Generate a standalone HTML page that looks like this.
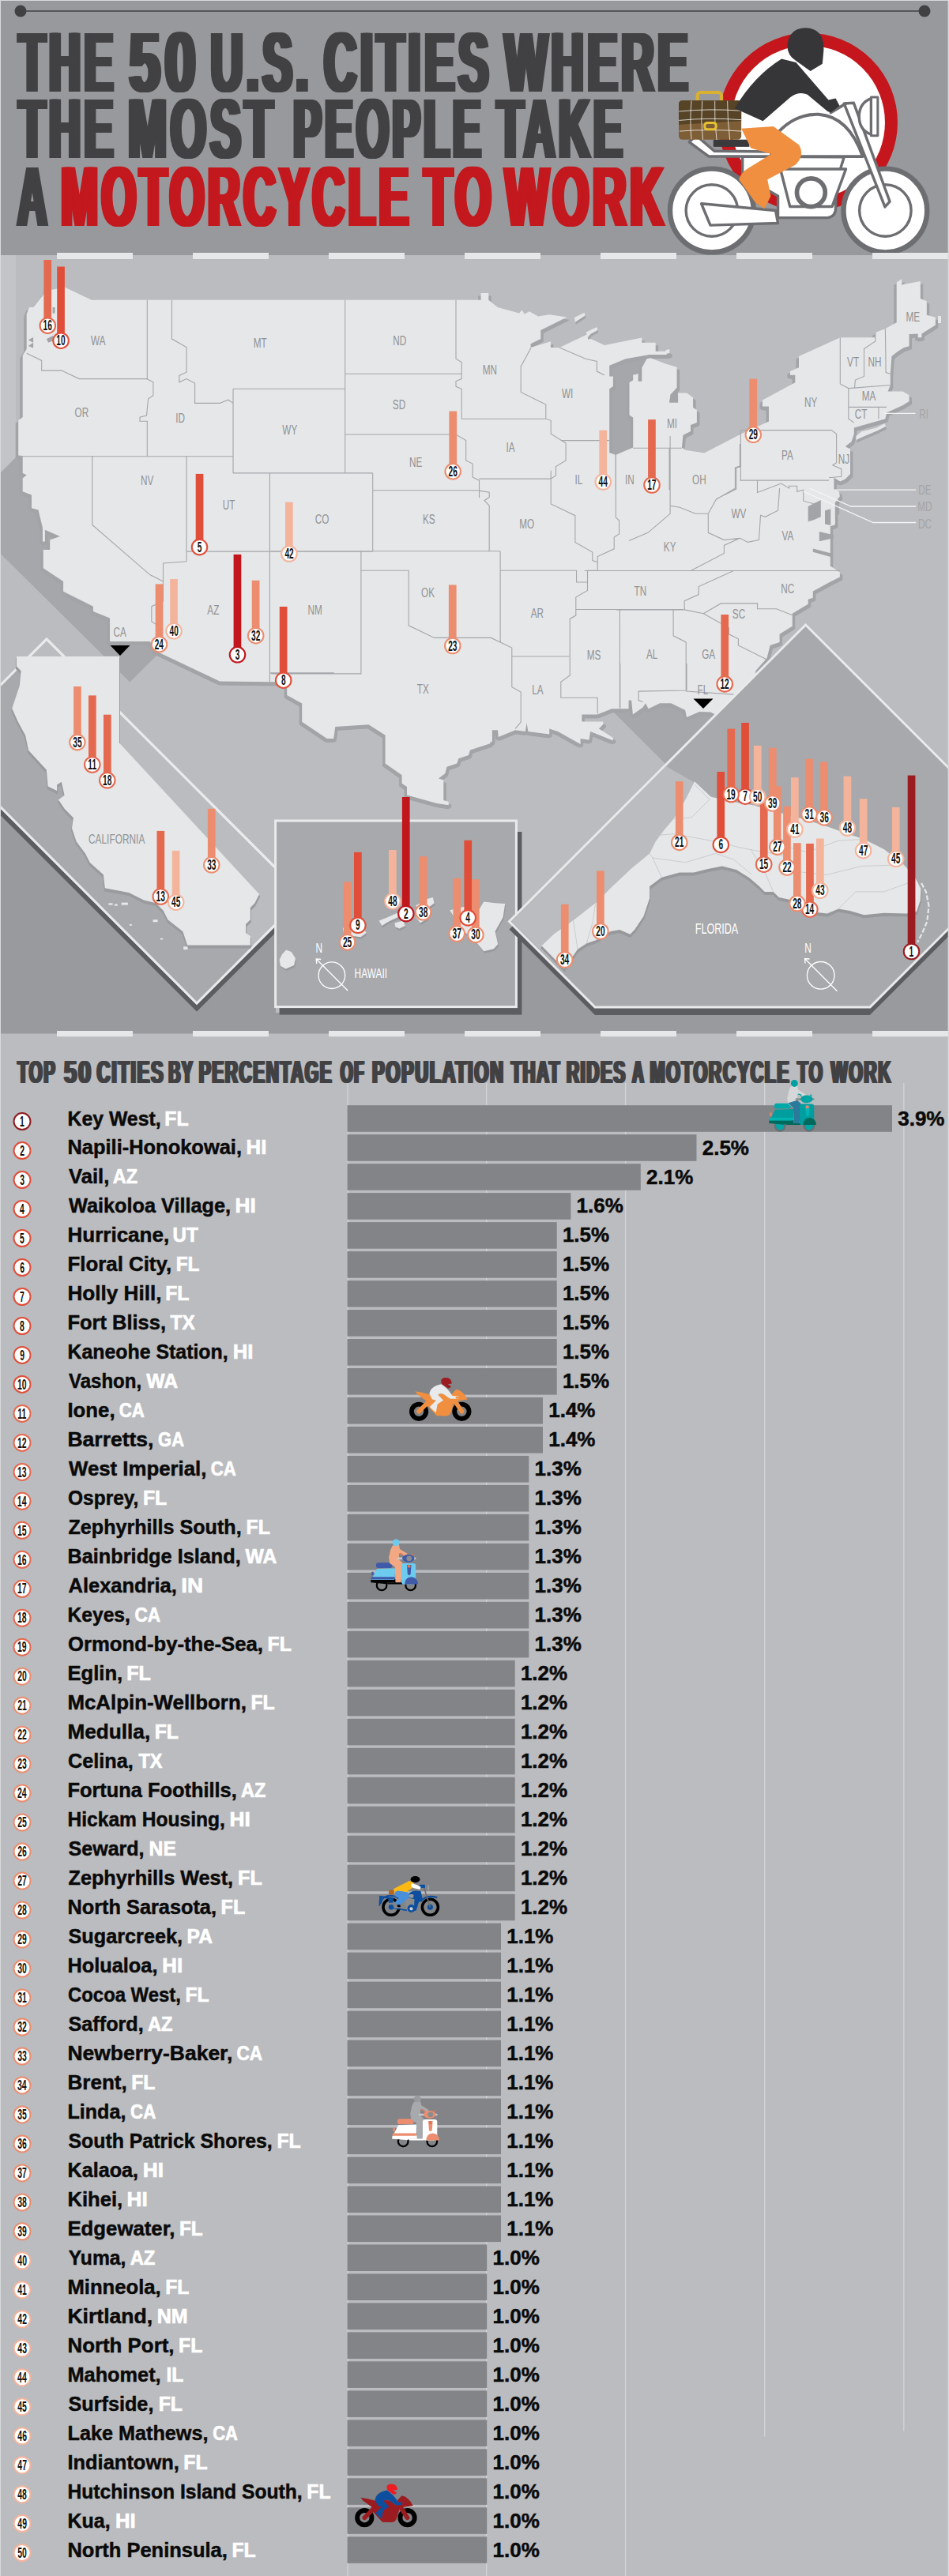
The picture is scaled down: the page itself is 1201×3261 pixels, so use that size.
<!DOCTYPE html><html><head><meta charset="utf-8"><title>Motorcycle</title><style>html,body{margin:0;padding:0;background:#bbbcbf;}svg{display:block}</style></head><body><svg width="1201" height="3261" viewBox="0 0 1201 3261" font-family="Liberation Sans, sans-serif">
<rect x="0" y="0" width="1201" height="3261" fill="#bbbcbf"/>
<rect x="0" y="323" width="20" height="300" fill="#c3c4c7"/>
<path d="M0.0 599.0 L22.0 577.0 L60.0 577.0 L210.0 790.0 L205.0 822.0 L200.0 828.0 L164.4 863.5 L150.7 850.0 L150.7 830.4 L131.5 830.4 L0.0 700.3 Z" fill="#a6a7aa"/>
<path d="M755.0 880.0 L842.0 967.0 L912.0 896.0 Z" fill="#a6a7aa"/>
<path d="M0.0 1024.0 L249.0 1272.0 L349.0 1172.0 L349.0 1282.0 L655.0 1282.0 L655.0 1180.0 L760.0 1285.0 L1101.0 1285.0 L1201.0 1185.0 L1201.0 1308.5 L0.0 1308.5 Z" fill="#999a9d"/>
<path d="M771.2 462.8 L791.8 454.3 L821.8 448.9 L818.6 454.3 L812.3 465.4 L812.3 482.8 L807.6 482.8 L807.6 473.3 L801.2 474.8 L801.2 481.2 L796.5 484.3 L796.5 525.4 L801.2 528.6 L801.2 566.5 L779.1 576.0 L771.2 572.9 L771.2 492.2 L755.4 492.2 L764.9 487.5 L764.9 479.6 L771.2 476.4 Z" fill="#a6a7aa"/>
<path d="M37.1 389.0 L42.1 389.0 L59.0 367.9 L82.2 363.7 L115.9 379.7 L608.6 379.7 L608.6 370.9 L618.3 370.9 L618.3 379.7 L629.7 389.0 L657.1 396.6 L660.6 392.6 L663.7 397.4 L670.0 394.2 L681.1 400.6 L695.3 398.3 L717.5 401.5 L684.3 417.9 L684.3 429.0 L671.6 435.3 L671.6 440.1 L696.9 432.2 L696.9 440.1 L708.0 440.1 L744.3 422.7 L744.3 427.4 L764.9 436.9 L812.3 427.4 L812.3 433.7 L829.7 433.7 L829.7 444.8 L847.1 444.8 L847.1 448.9 L821.8 448.9 L791.8 454.3 L771.2 462.8 L771.2 476.4 L775.9 476.4 L775.9 489.1 L771.2 492.2 L771.2 572.9 L779.1 576.0 L801.2 566.5 L801.2 528.6 L796.5 525.4 L796.5 484.3 L801.2 481.2 L801.2 474.8 L807.6 473.3 L807.6 482.8 L812.3 482.8 L812.3 465.4 L818.6 454.3 L823.4 453.3 L842.3 460.6 L856.6 464.7 L856.6 490.7 L848.7 499.5 L847.1 509.6 L858.1 509.6 L858.1 497.6 L869.2 497.6 L877.1 503.3 L877.1 515.9 L881.9 519.1 L881.9 534.9 L874.0 538.1 L874.0 546.0 L864.5 550.7 L862.9 566.5 L867.6 569.7 L891.3 573.5 L938.1 549.3 L973.0 533.5 L973.0 514.4 L965.0 514.4 L965.0 506.5 L1006.3 484.3 L1006.3 474.8 L999.9 474.8 L999.9 470.0 L1011.0 465.3 L1011.0 451.0 L1063.3 427.2 L1107.8 427.2 L1107.8 420.9 L1120.4 416.1 L1134.7 408.2 L1134.7 357.4 L1141.1 353.3 L1141.1 360.6 L1164.8 355.9 L1164.8 378.1 L1172.8 381.2 L1172.8 398.7 L1183.9 401.8 L1183.9 411.4 L1166.4 422.5 L1166.4 427.2 L1161.7 427.2 L1161.7 422.5 L1150.6 423.1 L1150.6 438.3 L1144.2 439.9 L1136.3 444.7 L1128.4 451.0 L1126.8 473.2 L1126.8 487.5 L1123.6 495.4 L1142.6 495.4 L1150.6 500.2 L1150.6 508.1 L1142.6 512.9 L1122.0 522.4 L1120.4 530.3 L1080.8 541.4 L1080.8 549.3 L1077.6 558.9 L1069.7 565.2 L1076.0 568.4 L1076.0 600.1 L1069.7 606.4 L1063.3 609.6 L1055.4 604.8 L1055.4 619.1 L1061.8 622.3 L1062.9 628.2 L1056.9 636.2 L1056.9 664.3 L1050.8 666.3 L1050.8 716.5 L1062.9 724.5 L1062.9 730.6 L1050.8 736.6 L1028.8 748.6 L1028.8 756.7 L1022.7 758.7 L1022.7 764.7 L1002.7 776.7 L1002.7 792.8 L986.6 802.8 L986.6 812.9 L974.6 816.9 L970.6 832.9 L956.5 849.0 L952.5 869.1 L940.4 897.2 L928.1 922.4 L904.8 904.5 L899.4 901.6 L885.1 900.9 L869.0 908.1 L867.2 899.1 L849.3 890.2 L835.0 890.2 L820.6 897.3 L817.0 890.2 L813.5 895.5 L800.9 904.5 L799.1 886.6 L795.6 886.6 L795.6 897.3 L774.1 897.3 L756.1 904.5 L736.4 904.5 L736.4 913.4 L763.3 913.4 L763.3 917.0 L757.9 922.4 L775.8 933.9 L775.8 937.4 L747.2 926.0 L745.4 936.7 L734.6 934.9 L734.6 942.1 L718.5 933.1 L706.0 926.0 L695.2 922.4 L695.2 929.6 L668.4 926.0 L666.6 915.2 L664.8 926.0 L652.2 924.2 L630.7 933.1 L630.0 924.2 L622.9 924.2 L622.9 938.5 L620.0 940.3 L620.3 941.2 L595.0 949.6 L592.9 956.0 L580.3 960.2 L578.2 966.5 L565.5 970.7 L563.4 979.1 L555.0 985.5 L561.3 987.6 L561.3 1012.9 L567.7 1015.0 L567.7 1019.2 L552.9 1017.1 L515.0 1006.5 L515.0 996.0 L508.6 991.8 L508.6 981.2 L487.6 966.5 L487.6 930.7 L466.5 917.2 L424.3 920.1 L422.2 934.9 L413.8 934.9 L382.2 913.8 L382.2 890.6 L363.2 880.1 L363.2 863.2 L300.0 863.2 L341.4 863.3 L278.2 862.5 L198.1 824.6 L189.7 811.9 L139.1 811.9 L139.1 782.4 L118.0 774.0 L118.0 767.7 L80.1 748.7 L80.1 736.0 L54.8 719.2 L54.8 696.0 L63.2 696.0 L63.2 683.4 L75.9 679.1 L56.9 670.7 L56.9 685.5 L54.0 685.5 L54.0 668.6 L48.5 645.4 L40.0 643.3 L40.0 626.4 L28.7 622.2 L28.7 605.4 L33.7 601.2 L28.7 599.1 L28.7 577.1 L23.2 576.6 L23.2 532.3 L28.7 528.1 L28.7 450.1 L33.7 441.7 L33.7 397.4 Z" transform="translate(-3.5,3.5)" fill="#a3a4a7"/>
<path d="M37.1 389.0 L42.1 389.0 L59.0 367.9 L82.2 363.7 L115.9 379.7 L608.6 379.7 L608.6 370.9 L618.3 370.9 L618.3 379.7 L629.7 389.0 L657.1 396.6 L660.6 392.6 L663.7 397.4 L670.0 394.2 L681.1 400.6 L695.3 398.3 L717.5 401.5 L684.3 417.9 L684.3 429.0 L671.6 435.3 L671.6 440.1 L696.9 432.2 L696.9 440.1 L708.0 440.1 L744.3 422.7 L744.3 427.4 L764.9 436.9 L812.3 427.4 L812.3 433.7 L829.7 433.7 L829.7 444.8 L847.1 444.8 L847.1 448.9 L821.8 448.9 L791.8 454.3 L771.2 462.8 L771.2 476.4 L775.9 476.4 L775.9 489.1 L771.2 492.2 L771.2 572.9 L779.1 576.0 L801.2 566.5 L801.2 528.6 L796.5 525.4 L796.5 484.3 L801.2 481.2 L801.2 474.8 L807.6 473.3 L807.6 482.8 L812.3 482.8 L812.3 465.4 L818.6 454.3 L823.4 453.3 L842.3 460.6 L856.6 464.7 L856.6 490.7 L848.7 499.5 L847.1 509.6 L858.1 509.6 L858.1 497.6 L869.2 497.6 L877.1 503.3 L877.1 515.9 L881.9 519.1 L881.9 534.9 L874.0 538.1 L874.0 546.0 L864.5 550.7 L862.9 566.5 L867.6 569.7 L891.3 573.5 L938.1 549.3 L973.0 533.5 L973.0 514.4 L965.0 514.4 L965.0 506.5 L1006.3 484.3 L1006.3 474.8 L999.9 474.8 L999.9 470.0 L1011.0 465.3 L1011.0 451.0 L1063.3 427.2 L1107.8 427.2 L1107.8 420.9 L1120.4 416.1 L1134.7 408.2 L1134.7 357.4 L1141.1 353.3 L1141.1 360.6 L1164.8 355.9 L1164.8 378.1 L1172.8 381.2 L1172.8 398.7 L1183.9 401.8 L1183.9 411.4 L1166.4 422.5 L1166.4 427.2 L1161.7 427.2 L1161.7 422.5 L1150.6 423.1 L1150.6 438.3 L1144.2 439.9 L1136.3 444.7 L1128.4 451.0 L1126.8 473.2 L1126.8 487.5 L1123.6 495.4 L1142.6 495.4 L1150.6 500.2 L1150.6 508.1 L1142.6 512.9 L1122.0 522.4 L1120.4 530.3 L1080.8 541.4 L1080.8 549.3 L1077.6 558.9 L1069.7 565.2 L1076.0 568.4 L1076.0 600.1 L1069.7 606.4 L1063.3 609.6 L1055.4 604.8 L1055.4 619.1 L1061.8 622.3 L1062.9 628.2 L1056.9 636.2 L1056.9 664.3 L1050.8 666.3 L1050.8 716.5 L1062.9 724.5 L1062.9 730.6 L1050.8 736.6 L1028.8 748.6 L1028.8 756.7 L1022.7 758.7 L1022.7 764.7 L1002.7 776.7 L1002.7 792.8 L986.6 802.8 L986.6 812.9 L974.6 816.9 L970.6 832.9 L956.5 849.0 L952.5 869.1 L940.4 897.2 L928.1 922.4 L904.8 904.5 L899.4 901.6 L885.1 900.9 L869.0 908.1 L867.2 899.1 L849.3 890.2 L835.0 890.2 L820.6 897.3 L817.0 890.2 L813.5 895.5 L800.9 904.5 L799.1 886.6 L795.6 886.6 L795.6 897.3 L774.1 897.3 L756.1 904.5 L736.4 904.5 L736.4 913.4 L763.3 913.4 L763.3 917.0 L757.9 922.4 L775.8 933.9 L775.8 937.4 L747.2 926.0 L745.4 936.7 L734.6 934.9 L734.6 942.1 L718.5 933.1 L706.0 926.0 L695.2 922.4 L695.2 929.6 L668.4 926.0 L666.6 915.2 L664.8 926.0 L652.2 924.2 L630.7 933.1 L630.0 924.2 L622.9 924.2 L622.9 938.5 L620.0 940.3 L620.3 941.2 L595.0 949.6 L592.9 956.0 L580.3 960.2 L578.2 966.5 L565.5 970.7 L563.4 979.1 L555.0 985.5 L561.3 987.6 L561.3 1012.9 L567.7 1015.0 L567.7 1019.2 L552.9 1017.1 L515.0 1006.5 L515.0 996.0 L508.6 991.8 L508.6 981.2 L487.6 966.5 L487.6 930.7 L466.5 917.2 L424.3 920.1 L422.2 934.9 L413.8 934.9 L382.2 913.8 L382.2 890.6 L363.2 880.1 L363.2 863.2 L300.0 863.2 L341.4 863.3 L278.2 862.5 L198.1 824.6 L189.7 811.9 L139.1 811.9 L139.1 782.4 L118.0 774.0 L118.0 767.7 L80.1 748.7 L80.1 736.0 L54.8 719.2 L54.8 696.0 L63.2 696.0 L63.2 683.4 L75.9 679.1 L56.9 670.7 L56.9 685.5 L54.0 685.5 L54.0 668.6 L48.5 645.4 L40.0 643.3 L40.0 626.4 L28.7 622.2 L28.7 605.4 L33.7 601.2 L28.7 599.1 L28.7 577.1 L23.2 576.6 L23.2 532.3 L28.7 528.1 L28.7 450.1 L33.7 441.7 L33.7 397.4 Z" transform="translate(0,5)" fill="#a3a4a7"/>
<path d="M37.1 389.0 L42.1 389.0 L59.0 367.9 L82.2 363.7 L115.9 379.7 L608.6 379.7 L608.6 370.9 L618.3 370.9 L618.3 379.7 L629.7 389.0 L657.1 396.6 L660.6 392.6 L663.7 397.4 L670.0 394.2 L681.1 400.6 L695.3 398.3 L717.5 401.5 L684.3 417.9 L684.3 429.0 L671.6 435.3 L671.6 440.1 L696.9 432.2 L696.9 440.1 L708.0 440.1 L744.3 422.7 L744.3 427.4 L764.9 436.9 L812.3 427.4 L812.3 433.7 L829.7 433.7 L829.7 444.8 L847.1 444.8 L847.1 448.9 L821.8 448.9 L791.8 454.3 L771.2 462.8 L771.2 476.4 L775.9 476.4 L775.9 489.1 L771.2 492.2 L771.2 572.9 L779.1 576.0 L801.2 566.5 L801.2 528.6 L796.5 525.4 L796.5 484.3 L801.2 481.2 L801.2 474.8 L807.6 473.3 L807.6 482.8 L812.3 482.8 L812.3 465.4 L818.6 454.3 L823.4 453.3 L842.3 460.6 L856.6 464.7 L856.6 490.7 L848.7 499.5 L847.1 509.6 L858.1 509.6 L858.1 497.6 L869.2 497.6 L877.1 503.3 L877.1 515.9 L881.9 519.1 L881.9 534.9 L874.0 538.1 L874.0 546.0 L864.5 550.7 L862.9 566.5 L867.6 569.7 L891.3 573.5 L938.1 549.3 L973.0 533.5 L973.0 514.4 L965.0 514.4 L965.0 506.5 L1006.3 484.3 L1006.3 474.8 L999.9 474.8 L999.9 470.0 L1011.0 465.3 L1011.0 451.0 L1063.3 427.2 L1107.8 427.2 L1107.8 420.9 L1120.4 416.1 L1134.7 408.2 L1134.7 357.4 L1141.1 353.3 L1141.1 360.6 L1164.8 355.9 L1164.8 378.1 L1172.8 381.2 L1172.8 398.7 L1183.9 401.8 L1183.9 411.4 L1166.4 422.5 L1166.4 427.2 L1161.7 427.2 L1161.7 422.5 L1150.6 423.1 L1150.6 438.3 L1144.2 439.9 L1136.3 444.7 L1128.4 451.0 L1126.8 473.2 L1126.8 487.5 L1123.6 495.4 L1142.6 495.4 L1150.6 500.2 L1150.6 508.1 L1142.6 512.9 L1122.0 522.4 L1120.4 530.3 L1080.8 541.4 L1080.8 549.3 L1077.6 558.9 L1069.7 565.2 L1076.0 568.4 L1076.0 600.1 L1069.7 606.4 L1063.3 609.6 L1055.4 604.8 L1055.4 619.1 L1061.8 622.3 L1062.9 628.2 L1056.9 636.2 L1056.9 664.3 L1050.8 666.3 L1050.8 716.5 L1062.9 724.5 L1062.9 730.6 L1050.8 736.6 L1028.8 748.6 L1028.8 756.7 L1022.7 758.7 L1022.7 764.7 L1002.7 776.7 L1002.7 792.8 L986.6 802.8 L986.6 812.9 L974.6 816.9 L970.6 832.9 L956.5 849.0 L952.5 869.1 L940.4 897.2 L928.1 922.4 L904.8 904.5 L899.4 901.6 L885.1 900.9 L869.0 908.1 L867.2 899.1 L849.3 890.2 L835.0 890.2 L820.6 897.3 L817.0 890.2 L813.5 895.5 L800.9 904.5 L799.1 886.6 L795.6 886.6 L795.6 897.3 L774.1 897.3 L756.1 904.5 L736.4 904.5 L736.4 913.4 L763.3 913.4 L763.3 917.0 L757.9 922.4 L775.8 933.9 L775.8 937.4 L747.2 926.0 L745.4 936.7 L734.6 934.9 L734.6 942.1 L718.5 933.1 L706.0 926.0 L695.2 922.4 L695.2 929.6 L668.4 926.0 L666.6 915.2 L664.8 926.0 L652.2 924.2 L630.7 933.1 L630.0 924.2 L622.9 924.2 L622.9 938.5 L620.0 940.3 L620.3 941.2 L595.0 949.6 L592.9 956.0 L580.3 960.2 L578.2 966.5 L565.5 970.7 L563.4 979.1 L555.0 985.5 L561.3 987.6 L561.3 1012.9 L567.7 1015.0 L567.7 1019.2 L552.9 1017.1 L515.0 1006.5 L515.0 996.0 L508.6 991.8 L508.6 981.2 L487.6 966.5 L487.6 930.7 L466.5 917.2 L424.3 920.1 L422.2 934.9 L413.8 934.9 L382.2 913.8 L382.2 890.6 L363.2 880.1 L363.2 863.2 L300.0 863.2 L341.4 863.3 L278.2 862.5 L198.1 824.6 L189.7 811.9 L139.1 811.9 L139.1 782.4 L118.0 774.0 L118.0 767.7 L80.1 748.7 L80.1 736.0 L54.8 719.2 L54.8 696.0 L63.2 696.0 L63.2 683.4 L75.9 679.1 L56.9 670.7 L56.9 685.5 L54.0 685.5 L54.0 668.6 L48.5 645.4 L40.0 643.3 L40.0 626.4 L28.7 622.2 L28.7 605.4 L33.7 601.2 L28.7 599.1 L28.7 577.1 L23.2 576.6 L23.2 532.3 L28.7 528.1 L28.7 450.1 L33.7 441.7 L33.7 397.4 Z" transform="translate(3.5,3.5)" fill="#a3a4a7"/>
<path d="M37.1 389.0 L42.1 389.0 L59.0 367.9 L82.2 363.7 L115.9 379.7 L608.6 379.7 L608.6 370.9 L618.3 370.9 L618.3 379.7 L629.7 389.0 L657.1 396.6 L660.6 392.6 L663.7 397.4 L670.0 394.2 L681.1 400.6 L695.3 398.3 L717.5 401.5 L684.3 417.9 L684.3 429.0 L671.6 435.3 L671.6 440.1 L696.9 432.2 L696.9 440.1 L708.0 440.1 L744.3 422.7 L744.3 427.4 L764.9 436.9 L812.3 427.4 L812.3 433.7 L829.7 433.7 L829.7 444.8 L847.1 444.8 L847.1 448.9 L821.8 448.9 L791.8 454.3 L771.2 462.8 L771.2 476.4 L775.9 476.4 L775.9 489.1 L771.2 492.2 L771.2 572.9 L779.1 576.0 L801.2 566.5 L801.2 528.6 L796.5 525.4 L796.5 484.3 L801.2 481.2 L801.2 474.8 L807.6 473.3 L807.6 482.8 L812.3 482.8 L812.3 465.4 L818.6 454.3 L823.4 453.3 L842.3 460.6 L856.6 464.7 L856.6 490.7 L848.7 499.5 L847.1 509.6 L858.1 509.6 L858.1 497.6 L869.2 497.6 L877.1 503.3 L877.1 515.9 L881.9 519.1 L881.9 534.9 L874.0 538.1 L874.0 546.0 L864.5 550.7 L862.9 566.5 L867.6 569.7 L891.3 573.5 L938.1 549.3 L973.0 533.5 L973.0 514.4 L965.0 514.4 L965.0 506.5 L1006.3 484.3 L1006.3 474.8 L999.9 474.8 L999.9 470.0 L1011.0 465.3 L1011.0 451.0 L1063.3 427.2 L1107.8 427.2 L1107.8 420.9 L1120.4 416.1 L1134.7 408.2 L1134.7 357.4 L1141.1 353.3 L1141.1 360.6 L1164.8 355.9 L1164.8 378.1 L1172.8 381.2 L1172.8 398.7 L1183.9 401.8 L1183.9 411.4 L1166.4 422.5 L1166.4 427.2 L1161.7 427.2 L1161.7 422.5 L1150.6 423.1 L1150.6 438.3 L1144.2 439.9 L1136.3 444.7 L1128.4 451.0 L1126.8 473.2 L1126.8 487.5 L1123.6 495.4 L1142.6 495.4 L1150.6 500.2 L1150.6 508.1 L1142.6 512.9 L1122.0 522.4 L1120.4 530.3 L1080.8 541.4 L1080.8 549.3 L1077.6 558.9 L1069.7 565.2 L1076.0 568.4 L1076.0 600.1 L1069.7 606.4 L1063.3 609.6 L1055.4 604.8 L1055.4 619.1 L1061.8 622.3 L1062.9 628.2 L1056.9 636.2 L1056.9 664.3 L1050.8 666.3 L1050.8 716.5 L1062.9 724.5 L1062.9 730.6 L1050.8 736.6 L1028.8 748.6 L1028.8 756.7 L1022.7 758.7 L1022.7 764.7 L1002.7 776.7 L1002.7 792.8 L986.6 802.8 L986.6 812.9 L974.6 816.9 L970.6 832.9 L956.5 849.0 L952.5 869.1 L940.4 897.2 L928.1 922.4 L904.8 904.5 L899.4 901.6 L885.1 900.9 L869.0 908.1 L867.2 899.1 L849.3 890.2 L835.0 890.2 L820.6 897.3 L817.0 890.2 L813.5 895.5 L800.9 904.5 L799.1 886.6 L795.6 886.6 L795.6 897.3 L774.1 897.3 L756.1 904.5 L736.4 904.5 L736.4 913.4 L763.3 913.4 L763.3 917.0 L757.9 922.4 L775.8 933.9 L775.8 937.4 L747.2 926.0 L745.4 936.7 L734.6 934.9 L734.6 942.1 L718.5 933.1 L706.0 926.0 L695.2 922.4 L695.2 929.6 L668.4 926.0 L666.6 915.2 L664.8 926.0 L652.2 924.2 L630.7 933.1 L630.0 924.2 L622.9 924.2 L622.9 938.5 L620.0 940.3 L620.3 941.2 L595.0 949.6 L592.9 956.0 L580.3 960.2 L578.2 966.5 L565.5 970.7 L563.4 979.1 L555.0 985.5 L561.3 987.6 L561.3 1012.9 L567.7 1015.0 L567.7 1019.2 L552.9 1017.1 L515.0 1006.5 L515.0 996.0 L508.6 991.8 L508.6 981.2 L487.6 966.5 L487.6 930.7 L466.5 917.2 L424.3 920.1 L422.2 934.9 L413.8 934.9 L382.2 913.8 L382.2 890.6 L363.2 880.1 L363.2 863.2 L300.0 863.2 L341.4 863.3 L278.2 862.5 L198.1 824.6 L189.7 811.9 L139.1 811.9 L139.1 782.4 L118.0 774.0 L118.0 767.7 L80.1 748.7 L80.1 736.0 L54.8 719.2 L54.8 696.0 L63.2 696.0 L63.2 683.4 L75.9 679.1 L56.9 670.7 L56.9 685.5 L54.0 685.5 L54.0 668.6 L48.5 645.4 L40.0 643.3 L40.0 626.4 L28.7 622.2 L28.7 605.4 L33.7 601.2 L28.7 599.1 L28.7 577.1 L23.2 576.6 L23.2 532.3 L28.7 528.1 L28.7 450.1 L33.7 441.7 L33.7 397.4 Z" transform="translate(-2,4.5)" fill="#a3a4a7"/>
<path d="M37.1 389.0 L42.1 389.0 L59.0 367.9 L82.2 363.7 L115.9 379.7 L608.6 379.7 L608.6 370.9 L618.3 370.9 L618.3 379.7 L629.7 389.0 L657.1 396.6 L660.6 392.6 L663.7 397.4 L670.0 394.2 L681.1 400.6 L695.3 398.3 L717.5 401.5 L684.3 417.9 L684.3 429.0 L671.6 435.3 L671.6 440.1 L696.9 432.2 L696.9 440.1 L708.0 440.1 L744.3 422.7 L744.3 427.4 L764.9 436.9 L812.3 427.4 L812.3 433.7 L829.7 433.7 L829.7 444.8 L847.1 444.8 L847.1 448.9 L821.8 448.9 L791.8 454.3 L771.2 462.8 L771.2 476.4 L775.9 476.4 L775.9 489.1 L771.2 492.2 L771.2 572.9 L779.1 576.0 L801.2 566.5 L801.2 528.6 L796.5 525.4 L796.5 484.3 L801.2 481.2 L801.2 474.8 L807.6 473.3 L807.6 482.8 L812.3 482.8 L812.3 465.4 L818.6 454.3 L823.4 453.3 L842.3 460.6 L856.6 464.7 L856.6 490.7 L848.7 499.5 L847.1 509.6 L858.1 509.6 L858.1 497.6 L869.2 497.6 L877.1 503.3 L877.1 515.9 L881.9 519.1 L881.9 534.9 L874.0 538.1 L874.0 546.0 L864.5 550.7 L862.9 566.5 L867.6 569.7 L891.3 573.5 L938.1 549.3 L973.0 533.5 L973.0 514.4 L965.0 514.4 L965.0 506.5 L1006.3 484.3 L1006.3 474.8 L999.9 474.8 L999.9 470.0 L1011.0 465.3 L1011.0 451.0 L1063.3 427.2 L1107.8 427.2 L1107.8 420.9 L1120.4 416.1 L1134.7 408.2 L1134.7 357.4 L1141.1 353.3 L1141.1 360.6 L1164.8 355.9 L1164.8 378.1 L1172.8 381.2 L1172.8 398.7 L1183.9 401.8 L1183.9 411.4 L1166.4 422.5 L1166.4 427.2 L1161.7 427.2 L1161.7 422.5 L1150.6 423.1 L1150.6 438.3 L1144.2 439.9 L1136.3 444.7 L1128.4 451.0 L1126.8 473.2 L1126.8 487.5 L1123.6 495.4 L1142.6 495.4 L1150.6 500.2 L1150.6 508.1 L1142.6 512.9 L1122.0 522.4 L1120.4 530.3 L1080.8 541.4 L1080.8 549.3 L1077.6 558.9 L1069.7 565.2 L1076.0 568.4 L1076.0 600.1 L1069.7 606.4 L1063.3 609.6 L1055.4 604.8 L1055.4 619.1 L1061.8 622.3 L1062.9 628.2 L1056.9 636.2 L1056.9 664.3 L1050.8 666.3 L1050.8 716.5 L1062.9 724.5 L1062.9 730.6 L1050.8 736.6 L1028.8 748.6 L1028.8 756.7 L1022.7 758.7 L1022.7 764.7 L1002.7 776.7 L1002.7 792.8 L986.6 802.8 L986.6 812.9 L974.6 816.9 L970.6 832.9 L956.5 849.0 L952.5 869.1 L940.4 897.2 L928.1 922.4 L904.8 904.5 L899.4 901.6 L885.1 900.9 L869.0 908.1 L867.2 899.1 L849.3 890.2 L835.0 890.2 L820.6 897.3 L817.0 890.2 L813.5 895.5 L800.9 904.5 L799.1 886.6 L795.6 886.6 L795.6 897.3 L774.1 897.3 L756.1 904.5 L736.4 904.5 L736.4 913.4 L763.3 913.4 L763.3 917.0 L757.9 922.4 L775.8 933.9 L775.8 937.4 L747.2 926.0 L745.4 936.7 L734.6 934.9 L734.6 942.1 L718.5 933.1 L706.0 926.0 L695.2 922.4 L695.2 929.6 L668.4 926.0 L666.6 915.2 L664.8 926.0 L652.2 924.2 L630.7 933.1 L630.0 924.2 L622.9 924.2 L622.9 938.5 L620.0 940.3 L620.3 941.2 L595.0 949.6 L592.9 956.0 L580.3 960.2 L578.2 966.5 L565.5 970.7 L563.4 979.1 L555.0 985.5 L561.3 987.6 L561.3 1012.9 L567.7 1015.0 L567.7 1019.2 L552.9 1017.1 L515.0 1006.5 L515.0 996.0 L508.6 991.8 L508.6 981.2 L487.6 966.5 L487.6 930.7 L466.5 917.2 L424.3 920.1 L422.2 934.9 L413.8 934.9 L382.2 913.8 L382.2 890.6 L363.2 880.1 L363.2 863.2 L300.0 863.2 L341.4 863.3 L278.2 862.5 L198.1 824.6 L189.7 811.9 L139.1 811.9 L139.1 782.4 L118.0 774.0 L118.0 767.7 L80.1 748.7 L80.1 736.0 L54.8 719.2 L54.8 696.0 L63.2 696.0 L63.2 683.4 L75.9 679.1 L56.9 670.7 L56.9 685.5 L54.0 685.5 L54.0 668.6 L48.5 645.4 L40.0 643.3 L40.0 626.4 L28.7 622.2 L28.7 605.4 L33.7 601.2 L28.7 599.1 L28.7 577.1 L23.2 576.6 L23.2 532.3 L28.7 528.1 L28.7 450.1 L33.7 441.7 L33.7 397.4 Z" transform="translate(2,4.5)" fill="#a3a4a7"/>
<path d="M37.1 389.0 L42.1 389.0 L59.0 367.9 L82.2 363.7 L115.9 379.7 L608.6 379.7 L608.6 370.9 L618.3 370.9 L618.3 379.7 L629.7 389.0 L657.1 396.6 L660.6 392.6 L663.7 397.4 L670.0 394.2 L681.1 400.6 L695.3 398.3 L717.5 401.5 L684.3 417.9 L684.3 429.0 L671.6 435.3 L671.6 440.1 L696.9 432.2 L696.9 440.1 L708.0 440.1 L744.3 422.7 L744.3 427.4 L764.9 436.9 L812.3 427.4 L812.3 433.7 L829.7 433.7 L829.7 444.8 L847.1 444.8 L847.1 448.9 L821.8 448.9 L791.8 454.3 L771.2 462.8 L771.2 476.4 L775.9 476.4 L775.9 489.1 L771.2 492.2 L771.2 572.9 L779.1 576.0 L801.2 566.5 L801.2 528.6 L796.5 525.4 L796.5 484.3 L801.2 481.2 L801.2 474.8 L807.6 473.3 L807.6 482.8 L812.3 482.8 L812.3 465.4 L818.6 454.3 L823.4 453.3 L842.3 460.6 L856.6 464.7 L856.6 490.7 L848.7 499.5 L847.1 509.6 L858.1 509.6 L858.1 497.6 L869.2 497.6 L877.1 503.3 L877.1 515.9 L881.9 519.1 L881.9 534.9 L874.0 538.1 L874.0 546.0 L864.5 550.7 L862.9 566.5 L867.6 569.7 L891.3 573.5 L938.1 549.3 L973.0 533.5 L973.0 514.4 L965.0 514.4 L965.0 506.5 L1006.3 484.3 L1006.3 474.8 L999.9 474.8 L999.9 470.0 L1011.0 465.3 L1011.0 451.0 L1063.3 427.2 L1107.8 427.2 L1107.8 420.9 L1120.4 416.1 L1134.7 408.2 L1134.7 357.4 L1141.1 353.3 L1141.1 360.6 L1164.8 355.9 L1164.8 378.1 L1172.8 381.2 L1172.8 398.7 L1183.9 401.8 L1183.9 411.4 L1166.4 422.5 L1166.4 427.2 L1161.7 427.2 L1161.7 422.5 L1150.6 423.1 L1150.6 438.3 L1144.2 439.9 L1136.3 444.7 L1128.4 451.0 L1126.8 473.2 L1126.8 487.5 L1123.6 495.4 L1142.6 495.4 L1150.6 500.2 L1150.6 508.1 L1142.6 512.9 L1122.0 522.4 L1120.4 530.3 L1080.8 541.4 L1080.8 549.3 L1077.6 558.9 L1069.7 565.2 L1076.0 568.4 L1076.0 600.1 L1069.7 606.4 L1063.3 609.6 L1055.4 604.8 L1055.4 619.1 L1061.8 622.3 L1062.9 628.2 L1056.9 636.2 L1056.9 664.3 L1050.8 666.3 L1050.8 716.5 L1062.9 724.5 L1062.9 730.6 L1050.8 736.6 L1028.8 748.6 L1028.8 756.7 L1022.7 758.7 L1022.7 764.7 L1002.7 776.7 L1002.7 792.8 L986.6 802.8 L986.6 812.9 L974.6 816.9 L970.6 832.9 L956.5 849.0 L952.5 869.1 L940.4 897.2 L928.1 922.4 L904.8 904.5 L899.4 901.6 L885.1 900.9 L869.0 908.1 L867.2 899.1 L849.3 890.2 L835.0 890.2 L820.6 897.3 L817.0 890.2 L813.5 895.5 L800.9 904.5 L799.1 886.6 L795.6 886.6 L795.6 897.3 L774.1 897.3 L756.1 904.5 L736.4 904.5 L736.4 913.4 L763.3 913.4 L763.3 917.0 L757.9 922.4 L775.8 933.9 L775.8 937.4 L747.2 926.0 L745.4 936.7 L734.6 934.9 L734.6 942.1 L718.5 933.1 L706.0 926.0 L695.2 922.4 L695.2 929.6 L668.4 926.0 L666.6 915.2 L664.8 926.0 L652.2 924.2 L630.7 933.1 L630.0 924.2 L622.9 924.2 L622.9 938.5 L620.0 940.3 L620.3 941.2 L595.0 949.6 L592.9 956.0 L580.3 960.2 L578.2 966.5 L565.5 970.7 L563.4 979.1 L555.0 985.5 L561.3 987.6 L561.3 1012.9 L567.7 1015.0 L567.7 1019.2 L552.9 1017.1 L515.0 1006.5 L515.0 996.0 L508.6 991.8 L508.6 981.2 L487.6 966.5 L487.6 930.7 L466.5 917.2 L424.3 920.1 L422.2 934.9 L413.8 934.9 L382.2 913.8 L382.2 890.6 L363.2 880.1 L363.2 863.2 L300.0 863.2 L341.4 863.3 L278.2 862.5 L198.1 824.6 L189.7 811.9 L139.1 811.9 L139.1 782.4 L118.0 774.0 L118.0 767.7 L80.1 748.7 L80.1 736.0 L54.8 719.2 L54.8 696.0 L63.2 696.0 L63.2 683.4 L75.9 679.1 L56.9 670.7 L56.9 685.5 L54.0 685.5 L54.0 668.6 L48.5 645.4 L40.0 643.3 L40.0 626.4 L28.7 622.2 L28.7 605.4 L33.7 601.2 L28.7 599.1 L28.7 577.1 L23.2 576.6 L23.2 532.3 L28.7 528.1 L28.7 450.1 L33.7 441.7 L33.7 397.4 Z" fill="#e6e7e8"/>
<path d="M1083.3 551.9 L1090.3 546.2 L1109.3 541.4 L1119.5 536.0 L1121.1 539.8 L1110.9 544.9 L1090.3 553.8 L1083.3 557.0 Z" transform="translate(1,3.5)" fill="#a3a4a7"/><path d="M1083.3 551.9 L1090.3 546.2 L1109.3 541.4 L1119.5 536.0 L1121.1 539.8 L1110.9 544.9 L1090.3 553.8 L1083.3 557.0 Z" fill="#e6e7e8"/>
<path d="M1022.7 641.0 L1038.8 633.0 L1038.8 654.3 L1029.6 658.3 L1022.7 660.3 Z" fill="#a3a4a7"/>
<path d="M1044.0 646.2 L1051.3 644.2 L1051.3 665.1 L1044.0 663.5 Z" fill="#a3a4a7"/>
<path d="M1036.8 673.1 L1054.9 677.2 L1054.9 681.2 L1036.8 685.2 Z" fill="#a3a4a7"/>
<path d="M1028.8 694.4 L1052.1 700.4 L1052.1 705.3 L1028.8 698.8 Z" fill="#a3a4a7"/>
<path d="M1056.9 636.2 L1062.1 631.4 L1062.1 650.3 L1056.9 656.3 Z" fill="#a3a4a7"/>
<path d="M42.1 426.9 L35.8 430.3 L42.1 433.7 L35.8 437.9 L42.1 440.4 Z" fill="#a3a4a7"/>
<path d="M59.0 429.1 L67.4 424.8 L67.4 431.2 L61.1 433.7 Z" fill="#a3a4a7"/>
<path d="M66.6 389.0 L69.5 389.0 L69.5 396.6 L66.6 396.6 Z" fill="#a3a4a7"/>
<path d="M726.9 402.1 L739.6 395.8 L740.5 399.6 L727.9 407.8 Z" transform="translate(1,3)" fill="#a3a4a7"/><path d="M726.9 402.1 L739.6 395.8 L740.5 399.6 L727.9 407.8 Z" fill="#e6e7e8"/>
<path d="M741.8 420.5 L755.4 414.1 L756.3 417.9 L747.5 422.7 L743.7 427.4 Z" transform="translate(1,3)" fill="#a3a4a7"/><path d="M741.8 420.5 L755.4 414.1 L756.3 417.9 L747.5 422.7 L743.7 427.4 Z" fill="#e6e7e8"/>
<path d="M842.3 443.2 L847.1 442.0 L847.7 447.0 L843.0 447.7 Z" transform="translate(1,3)" fill="#a3a4a7"/><path d="M842.3 443.2 L847.1 442.0 L847.7 447.0 L843.0 447.7 Z" fill="#e6e7e8"/>
<path d="M848.7 499.5 L857.5 491.3 L858.1 509.6 L847.1 509.6 Z" fill="#a3a4a7"/>
<rect x="1187" y="400" width="4" height="9" fill="#e6e7e8"/>
<path d="M33.7 447.2 L52.7 456.4 L52.7 469.1 L78.0 469.1 L100.3 479.6 L185.5 479.6 M186.3 379.7 L186.3 479.6 M217.5 379.7 L217.5 429.1 L236.0 439.6 L236.0 471.2 L226.8 475.4 L226.8 483.8 L236.0 479.6 L246.6 485.1 L246.6 510.4 L278.2 510.4 L288.7 506.2 L295.0 510.4 M185.5 479.6 L193.9 483.8 L193.9 500.7 L187.6 504.9 L185.5 526.0 L177.0 528.1 L177.0 533.2 L186.3 533.2 L186.3 577.8 M23.2 577.8 L295.0 577.8 M295.0 492.3 L295.0 598.9 M295.0 492.3 L436.7 492.3 M295.0 598.9 L471.7 598.9 M116.8 577.1 L116.8 664.4 L189.7 727.6 L206.5 736.0 M236.0 577.1 L236.0 710.7 L206.5 712.9 L206.5 761.3 L191.8 767.7 L191.8 786.6 L198.1 790.8 L198.1 811.9 M236.0 698.1 L471.7 698.1 M341.4 599.1 L341.4 863.3 M341.4 851.9 L422.8 851.9 M436.7 379.7 L436.7 598.9 M436.7 473.3 L584.2 473.3 M577.0 379.7 L577.0 454.3 L584.2 458.6 L584.2 479.6 L577.0 482.6 L577.0 489.3 L584.2 492.3 L584.2 530.2 M436.7 550.0 L577.0 550.0 L589.7 557.6 L589.7 582.9 L598.1 587.1 L598.1 604.0 L606.5 608.2 L606.5 630.1 M584.2 530.2 L690.8 530.2 M671.9 440.4 L659.2 464.0 L659.2 496.5 L690.8 512.1 L690.8 530.2 L697.2 532.3 L697.2 549.2 L716.1 561.0 L716.1 582.9 L703.5 590.5 L703.5 601.9 L697.2 606.1 L697.2 630.1 M709.8 557.6 L770.9 557.6 M471.7 598.9 L471.7 620.8 L606.5 620.8 M606.5 606.1 L697.2 606.1 M471.7 621.1 L471.7 697.8 M606.5 621.1 L619.2 623.2 L619.2 629.5 L612.9 633.7 L619.2 640.0 L619.2 697.8 M343.1 697.8 L633.1 697.8 M456.9 697.8 L456.9 722.2 L517.2 722.2 L517.2 791.8 L549.6 807.4 L621.3 807.4 L647.8 820.0 L647.8 831.0 M456.9 722.2 L456.9 852.9 L343.1 852.9 M633.1 697.8 L633.1 812.9 M633.1 722.2 L729.6 722.2 L729.6 737.0 L743.5 737.0 L743.5 722.2 L756.2 722.2 L756.2 704.5 L777.2 694.8 L777.2 680.1 L783.6 675.9 L783.6 659.0 L779.3 654.8 L779.3 574.7 M647.8 831.0 L720.3 831.0 M647.8 831.0 L647.8 869.8 L659.2 876.1 L659.2 914.0 L652.1 922.4 M743.5 737.0 L743.5 747.5 L728.8 756.0 L728.8 779.1 L721.2 783.4 L721.2 855.0 L709.8 863.4 L709.8 883.2 L756.2 883.2 L756.2 903.5 M728.8 771.5 L863.6 771.5 M784.4 771.5 L784.4 895.0 M697.2 595.8 L697.2 637.9 L727.9 652.7 L727.9 686.4 L749.8 699.1 L749.8 709.6 L756.2 711.7 M848.1 551.9 L848.1 640.2 L860.1 642.2 L880.2 650.3 L896.3 650.3 L906.3 632.2 L930.4 618.1 L930.4 592.0 L936.4 590.0 L936.4 561.9 M848.1 640.2 L848.1 650.3 L820.0 674.3 L795.9 684.4 M936.4 608.1 L1048.8 608.1 M958.5 608.1 L958.5 623.4 L988.6 612.1 L998.7 618.1 L998.7 615.3 L1008.7 615.3 L1008.7 622.2 L1016.7 620.1 L1016.7 634.2 L1038.8 640.2 M896.3 650.3 L896.3 674.3 L916.4 683.6 L936.4 681.2 L946.5 686.4 L960.5 683.6 L962.5 652.3 L968.5 654.3 L984.6 646.2 L986.6 618.1 M739.7 722.5 L1062.9 722.5 M874.2 722.5 L916.4 700.4 L916.4 690.4 L936.4 681.2 M928.4 722.5 L884.2 742.6 L884.2 752.6 L866.2 760.7 L866.2 771.9 M779.9 771.9 L866.2 771.9 L890.3 776.7 M890.3 776.7 L912.3 763.9 L958.5 763.9 L958.5 770.7 L982.6 770.7 L1002.7 778.7 M890.3 776.7 L922.4 794.8 L922.4 802.8 L934.4 808.8 L934.4 816.9 L970.6 834.9 M852.1 771.9 L852.1 804.8 L868.2 812.9 L868.2 875.1 L928.4 879.1 M784.8 840.0 L784.8 897.3 M869.0 840.0 L869.0 874.0 L808.1 875.1 L808.1 886.6 L813.5 888.4 M938.1 544.6 L1052.2 544.6 L1058.6 549.3 L1058.6 585.8 L1053.8 589.0 L1064.9 593.7 L1064.9 603.3 L1049.1 604.8 M937.4 544.6 L937.4 608.0 L1049.1 608.0 M1063.3 427.2 L1063.3 485.9 L1073.8 491.6 M1107.8 420.9 L1107.8 432.0 L1093.5 441.5 L1093.5 476.4 L1082.4 481.1 L1081.4 491.6 M1120.4 416.1 L1121.1 471.6 L1126.8 473.2 M1073.8 491.6 L1126.8 487.5 M1073.8 491.6 L1073.8 530.3 L1080.8 535.1 M1073.8 515.4 L1122.0 515.4 M1111.9 515.4 L1111.9 530.3 M937.4 590.6 L931.7 592.2 L931.7 619.1 L906.3 631.8 M779.1 576.0 L779.1 620.3 M708.0 440.1 L741.2 454.3 L755.4 457.5 L755.4 470.1 L764.9 474.8 M801.2 567.2 L862.9 567.2 M847.1 567.2 L847.1 620.3" fill="none" stroke="#a4a6a9" stroke-width="1.1"/>
<path d="M1118.9 523.3 L1158.5 523.3 M1056.9 620.1 L1159.2 620.1 M1024.8 618.1 L1076.9 641.0 L1159.2 641.0 M1016.7 622.2 L1105.0 661.5 L1159.2 661.5" fill="none" stroke="#f4f4f5" stroke-width="1.3"/>
<text transform="translate(115.0,437.4) scale(0.7,1)" font-size="16.8" font-weight="normal" fill="#909295">WA</text>
<text transform="translate(94.5,527.8) scale(0.7,1)" font-size="16.8" font-weight="normal" fill="#909295">OR</text>
<text transform="translate(222.3,534.8) scale(0.7,1)" font-size="16.8" font-weight="normal" fill="#909295">ID</text>
<text transform="translate(320.8,439.9) scale(0.7,1)" font-size="16.8" font-weight="normal" fill="#909295">MT</text>
<text transform="translate(357.3,549.9) scale(0.7,1)" font-size="16.8" font-weight="normal" fill="#909295">WY</text>
<text transform="translate(178.0,614.4) scale(0.7,1)" font-size="16.8" font-weight="normal" fill="#909295">NV</text>
<text transform="translate(281.7,644.8) scale(0.7,1)" font-size="16.8" font-weight="normal" fill="#909295">UT</text>
<text transform="translate(398.7,662.6) scale(0.7,1)" font-size="16.8" font-weight="normal" fill="#909295">CO</text>
<text transform="translate(262.3,777.8) scale(0.7,1)" font-size="16.8" font-weight="normal" fill="#909295">AZ</text>
<text transform="translate(389.4,777.8) scale(0.7,1)" font-size="16.8" font-weight="normal" fill="#909295">NM</text>
<text transform="translate(497.3,437.4) scale(0.7,1)" font-size="16.8" font-weight="normal" fill="#909295">ND</text>
<text transform="translate(496.8,518.3) scale(0.7,1)" font-size="16.8" font-weight="normal" fill="#909295">SD</text>
<text transform="translate(518.1,590.5) scale(0.7,1)" font-size="16.8" font-weight="normal" fill="#909295">NE</text>
<text transform="translate(534.9,662.6) scale(0.7,1)" font-size="16.8" font-weight="normal" fill="#909295">KS</text>
<text transform="translate(533.0,756.3) scale(0.7,1)" font-size="16.8" font-weight="normal" fill="#909295">OK</text>
<text transform="translate(527.8,877.8) scale(0.7,1)" font-size="16.8" font-weight="normal" fill="#909295">TX</text>
<text transform="translate(610.8,473.8) scale(0.7,1)" font-size="16.8" font-weight="normal" fill="#909295">MN</text>
<text transform="translate(640.6,571.5) scale(0.7,1)" font-size="16.8" font-weight="normal" fill="#909295">IA</text>
<text transform="translate(657.3,668.8) scale(0.7,1)" font-size="16.8" font-weight="normal" fill="#909295">MO</text>
<text transform="translate(671.7,781.6) scale(0.7,1)" font-size="16.8" font-weight="normal" fill="#909295">AR</text>
<text transform="translate(673.3,878.8) scale(0.7,1)" font-size="16.8" font-weight="normal" fill="#909295">LA</text>
<text transform="translate(710.9,504.4) scale(0.7,1)" font-size="16.8" font-weight="normal" fill="#909295">WI</text>
<text transform="translate(727.5,613.3) scale(0.7,1)" font-size="16.8" font-weight="normal" fill="#909295">IL</text>
<text transform="translate(791.0,613.3) scale(0.7,1)" font-size="16.8" font-weight="normal" fill="#909295">IN</text>
<text transform="translate(844.0,542.4) scale(0.7,1)" font-size="16.8" font-weight="normal" fill="#909295">MI</text>
<text transform="translate(876.0,613.3) scale(0.7,1)" font-size="16.8" font-weight="normal" fill="#909295">OH</text>
<text transform="translate(839.8,698.1) scale(0.7,1)" font-size="16.8" font-weight="normal" fill="#909295">KY</text>
<text transform="translate(802.5,753.8) scale(0.7,1)" font-size="16.8" font-weight="normal" fill="#909295">TN</text>
<text transform="translate(742.7,834.8) scale(0.7,1)" font-size="16.8" font-weight="normal" fill="#909295">MS</text>
<text transform="translate(818.0,833.5) scale(0.7,1)" font-size="16.8" font-weight="normal" fill="#909295">AL</text>
<text transform="translate(888.2,833.5) scale(0.7,1)" font-size="16.8" font-weight="normal" fill="#909295">GA</text>
<text transform="translate(926.8,782.8) scale(0.7,1)" font-size="16.8" font-weight="normal" fill="#909295">SC</text>
<text transform="translate(988.2,751.2) scale(0.7,1)" font-size="16.8" font-weight="normal" fill="#909295">NC</text>
<text transform="translate(989.6,684.2) scale(0.7,1)" font-size="16.8" font-weight="normal" fill="#909295">VA</text>
<text transform="translate(925.5,656.3) scale(0.7,1)" font-size="16.8" font-weight="normal" fill="#909295">WV</text>
<text transform="translate(989.1,581.6) scale(0.7,1)" font-size="16.8" font-weight="normal" fill="#909295">PA</text>
<text transform="translate(1017.9,514.6) scale(0.7,1)" font-size="16.8" font-weight="normal" fill="#909295">NY</text>
<text transform="translate(1146.4,407.0) scale(0.7,1)" font-size="16.8" font-weight="normal" fill="#909295">ME</text>
<text transform="translate(1072.1,463.8) scale(0.7,1)" font-size="16.8" font-weight="normal" fill="#909295">VT</text>
<text transform="translate(1098.5,463.8) scale(0.7,1)" font-size="16.8" font-weight="normal" fill="#909295">NH</text>
<text transform="translate(1090.7,506.8) scale(0.7,1)" font-size="16.8" font-weight="normal" fill="#909295">MA</text>
<text transform="translate(1081.7,529.8) scale(0.7,1)" font-size="16.8" font-weight="normal" fill="#909295">CT</text>
<text transform="translate(1060.8,586.8) scale(0.7,1)" font-size="16.8" font-weight="normal" fill="#909295">NJ</text>
<text transform="translate(1163.2,529.8) scale(0.7,1)" font-size="16.8" font-weight="normal" fill="#a3a5a8">RI</text>
<text transform="translate(1162.3,625.8) scale(0.7,1)" font-size="16.8" font-weight="normal" fill="#a3a5a8">DE</text>
<text transform="translate(1161.3,647.4) scale(0.7,1)" font-size="16.8" font-weight="normal" fill="#a3a5a8">MD</text>
<text transform="translate(1161.9,668.8) scale(0.7,1)" font-size="16.8" font-weight="normal" fill="#a3a5a8">DC</text>
<text transform="translate(143.5,805.8) scale(0.7,1)" font-size="16.8" font-weight="normal" fill="#909295">CA</text>
<text transform="translate(882.5,878.8) scale(0.7,1)" font-size="16.8" font-weight="normal" fill="#909295">FL</text>
<path d="M139.5 817 L164.5 817 L152 830 Z" fill="#000"/>
<path d="M877.5 884.5 L902.5 884.5 L890 897 Z" fill="#000"/>
<path d="M59.0 809.0 L384.5 1134.5 L249.0 1270.0 L-76.5 944.5 Z" transform="translate(0,10.5)" fill="#5c5d60"/>
<path d="M59.0 809.0 L384.5 1134.5 L249.0 1270.0 L-76.5 944.5 Z" fill="#bbbcbf" stroke="#e9eaeb" stroke-width="3"/>
<path d="M21.5 846.5 L-76.5 944.5 L249.0 1270.0 L322.6 1196.4 L316.8 1196.4 L21.0 831.0 Z" fill="#a8a9ac"/>
<path d="M59.0 809.0 L384.5 1134.5 L249.0 1270.0 L-76.5 944.5 Z" fill="none" stroke="#e9eaeb" stroke-width="3"/>
<path d="M20.9 831.1 L151.0 831.1 L151.0 940.4 L328.1 1131.9 L322.4 1143.3 L316.8 1149.0 L316.8 1164.2 L311.1 1169.9 L311.1 1181.2 L316.8 1185.0 L316.8 1196.4 L237.1 1196.4 L231.4 1179.3 L212.4 1164.2 L206.7 1152.8 L197.3 1143.3 L182.1 1139.5 L163.1 1130.0 L132.8 1124.3 L130.9 1107.3 L113.8 1092.1 L108.1 1080.7 L96.7 1065.5 L91.0 1048.5 L92.9 1035.2 L81.6 1023.8 L74.0 1012.4 L81.6 1006.7 L77.8 989.7 L72.1 993.5 L72.1 1001.1 L60.7 995.4 L58.8 974.5 L36.0 949.8 L32.2 930.9 L22.8 913.8 L15.2 896.7 L24.7 868.3 L26.6 849.3 L20.9 843.6 Z" transform="translate(0,3)" fill="#9a9b9e" stroke="#9a9b9e" stroke-width="2"/>
<path d="M20.9 831.1 L151.0 831.1 L151.0 940.4 L328.1 1131.9 L322.4 1143.3 L316.8 1149.0 L316.8 1164.2 L311.1 1169.9 L311.1 1181.2 L316.8 1185.0 L316.8 1196.4 L237.1 1196.4 L231.4 1179.3 L212.4 1164.2 L206.7 1152.8 L197.3 1143.3 L182.1 1139.5 L163.1 1130.0 L132.8 1124.3 L130.9 1107.3 L113.8 1092.1 L108.1 1080.7 L96.7 1065.5 L91.0 1048.5 L92.9 1035.2 L81.6 1023.8 L74.0 1012.4 L81.6 1006.7 L77.8 989.7 L72.1 993.5 L72.1 1001.1 L60.7 995.4 L58.8 974.5 L36.0 949.8 L32.2 930.9 L22.8 913.8 L15.2 896.7 L24.7 868.3 L26.6 849.3 L20.9 843.6 Z" fill="#e6e7e8"/>
<rect x="137.3" y="1143.3" width="5.3" height="2.3" fill="#e6e7e8"/>
<rect x="144.9" y="1144.4" width="3.8" height="2.3" fill="#e6e7e8"/>
<rect x="153.6" y="1142.6" width="8.3" height="3.0" fill="#e6e7e8"/>
<rect x="193.5" y="1164.2" width="6.1" height="3.0" fill="#e6e7e8"/>
<rect x="163.9" y="1169.9" width="3.0" height="1.9" fill="#e6e7e8"/>
<rect x="203.0" y="1187.7" width="3.0" height="1.9" fill="#e6e7e8"/>
<rect x="232.2" y="1198.3" width="5.3" height="3.8" fill="#e6e7e8"/>
<text transform="translate(112.0,1068.3) scale(0.7,1)" font-size="17" font-weight="normal" fill="#909295">CALIFORNIA</text>
<rect x="353.6" y="1053" width="306.79999999999995" height="231.5999999999999" fill="#5c5d60"/>
<rect x="348.6" y="1039" width="304.79999999999995" height="235.5999999999999" fill="#a8a9ac" stroke="#e9eaeb" stroke-width="3"/>
<path d="M362.2 1202.4 L368.7 1204.9 L374.0 1213.2 L372.2 1222.1 L361.5 1226.4 L355.0 1222.8 L353.6 1215.0 L357.2 1207.8 Z" transform="translate(1,2.5)" fill="#98999c"/><path d="M362.2 1202.4 L368.7 1204.9 L374.0 1213.2 L372.2 1222.1 L361.5 1226.4 L355.0 1222.8 L353.6 1215.0 L357.2 1207.8 Z" fill="#e6e7e8"/>
<path d="M433.9 1174.8 L447.5 1172.0 L460.0 1175.6 L463.6 1180.9 L456.4 1186.3 L443.9 1184.5 L434.9 1180.9 Z" transform="translate(1,2.5)" fill="#98999c"/><path d="M433.9 1174.8 L447.5 1172.0 L460.0 1175.6 L463.6 1180.9 L456.4 1186.3 L443.9 1184.5 L434.9 1180.9 Z" fill="#e6e7e8"/>
<path d="M479.7 1165.5 L490.5 1161.2 L508.4 1153.3 L511.3 1157.6 L494.1 1165.5 L488.7 1168.4 L483.3 1172.0 Z" transform="translate(1,2.5)" fill="#98999c"/><path d="M479.7 1165.5 L490.5 1161.2 L508.4 1153.3 L511.3 1157.6 L494.1 1165.5 L488.7 1168.4 L483.3 1172.0 Z" fill="#e6e7e8"/>
<path d="M499.4 1168.4 L510.2 1165.5 L512.7 1172.0 L505.5 1175.6 L500.5 1173.4 Z" transform="translate(1,2.5)" fill="#98999c"/><path d="M499.4 1168.4 L510.2 1165.5 L512.7 1172.0 L505.5 1175.6 L500.5 1173.4 Z" fill="#e6e7e8"/>
<path d="M526.3 1146.2 L540.6 1137.9 L547.8 1136.1 L549.6 1143.3 L542.4 1148.7 L546.0 1154.1 L540.6 1163.0 L531.7 1168.4 L526.3 1161.2 L529.9 1154.1 Z" transform="translate(1,2.5)" fill="#98999c"/><path d="M526.3 1146.2 L540.6 1137.9 L547.8 1136.1 L549.6 1143.3 L542.4 1148.7 L546.0 1154.1 L540.6 1163.0 L531.7 1168.4 L526.3 1161.2 L529.9 1154.1 Z" fill="#e6e7e8"/>
<path d="M569.3 1152.3 L590.8 1146.9 L606.9 1150.5 L612.3 1141.5 L626.6 1143.3 L639.2 1144.0 L636.6 1161.2 L626.6 1179.1 L630.2 1195.3 L624.8 1201.3 L612.3 1204.2 L603.3 1193.5 L587.2 1179.1 L574.7 1161.2 Z" transform="translate(1,2.5)" fill="#98999c"/><path d="M569.3 1152.3 L590.8 1146.9 L606.9 1150.5 L612.3 1141.5 L626.6 1143.3 L639.2 1144.0 L636.6 1161.2 L626.6 1179.1 L630.2 1195.3 L624.8 1201.3 L612.3 1204.2 L603.3 1193.5 L587.2 1179.1 L574.7 1161.2 Z" fill="#e6e7e8"/>
<text transform="translate(448.6,1238.3) scale(0.7,1)" font-size="17" font-weight="normal" fill="#fff">HAWAII</text>
<circle cx="419.9" cy="1234.7" r="16.8" fill="none" stroke="#fff" stroke-width="1.3"/><path d="M440.1 1254.0 L400.2 1214.0 M406.2 1214.5 L400.2 1214.0 L400.7 1220.0" fill="none" stroke="#fff" stroke-width="1.3"/><text transform="translate(399.5,1205.7) scale(0.72,1)" font-size="16.5" font-weight="normal" fill="#fff">N</text>
<path d="M1019.5 791.0 L1260.0 1031.5 L1260.0 1116.0 L1101.0 1275.0 L753.0 1275.0 L644.5 1166.5 Z" transform="translate(0,10)" fill="#5c5d60"/>
<path d="M1019.5 791.0 L1260.0 1031.5 L1260.0 1116.0 L1101.0 1275.0 L753.0 1275.0 L644.5 1166.5 Z" fill="#a8a9ac" stroke="#e9eaeb" stroke-width="3"/>
<path d="M647.5 1166.5 L843.0 970.0 L883.0 993.0 L855.0 1060.0 L822.0 1100.0 L771.0 1148.0 L720.0 1205.0 L712.0 1226.0 L714.0 1232.0 Z" fill="#bbbcbf"/>
<path d="M685.5 1197.2 L700.7 1182.8 L727.3 1163.8 L753.8 1143.0 L770.9 1125.9 L799.3 1099.3 L822.1 1080.4 L829.7 1065.2 L841.1 1050.0 L852.4 1036.7 L867.6 1012.1 L879.0 989.3 L899.5 1008.5 L921.1 1013.9 L953.4 1019.3 L978.6 1026.5 L1018.1 1037.3 L1046.8 1046.2 L1072.0 1055.2 L1093.6 1062.4 L1118.7 1075.0 L1143.9 1094.7 L1158.2 1110.9 L1165.4 1125.3 L1164.7 1139.7 L1160.0 1154.0 L1147.5 1156.6 L1118.7 1155.8 L1093.6 1158.3 L1075.6 1153.0 L1061.2 1150.4 L1046.8 1156.6 L1032.5 1154.8 L1018.1 1147.6 L1003.7 1139.7 L985.8 1136.1 L978.6 1128.9 L967.8 1128.9 L960.6 1121.7 L948.0 1110.9 L931.9 1100.9 L913.9 1096.5 L895.9 1100.1 L878.0 1104.4 L860.0 1104.4 L837.3 1110.7 L822.1 1122.1 L822.1 1137.3 L814.5 1160.0 L803.1 1177.1 L797.4 1182.8 L784.2 1177.1 L772.8 1179.0 L753.8 1190.4 L742.4 1194.2 L731.0 1201.8 L714.0 1226.4 Z" transform="translate(0,3)" fill="#97989b" stroke="#97989b" stroke-width="2" stroke-linejoin="round"/>
<path d="M685.5 1197.2 L700.7 1182.8 L727.3 1163.8 L753.8 1143.0 L770.9 1125.9 L799.3 1099.3 L822.1 1080.4 L829.7 1065.2 L841.1 1050.0 L852.4 1036.7 L867.6 1012.1 L879.0 989.3 L899.5 1008.5 L921.1 1013.9 L953.4 1019.3 L978.6 1026.5 L1018.1 1037.3 L1046.8 1046.2 L1072.0 1055.2 L1093.6 1062.4 L1118.7 1075.0 L1143.9 1094.7 L1158.2 1110.9 L1165.4 1125.3 L1164.7 1139.7 L1160.0 1154.0 L1147.5 1156.6 L1118.7 1155.8 L1093.6 1158.3 L1075.6 1153.0 L1061.2 1150.4 L1046.8 1156.6 L1032.5 1154.8 L1018.1 1147.6 L1003.7 1139.7 L985.8 1136.1 L978.6 1128.9 L967.8 1128.9 L960.6 1121.7 L948.0 1110.9 L931.9 1100.9 L913.9 1096.5 L895.9 1100.1 L878.0 1104.4 L860.0 1104.4 L837.3 1110.7 L822.1 1122.1 L822.1 1137.3 L814.5 1160.0 L803.1 1177.1 L797.4 1182.8 L784.2 1177.1 L772.8 1179.0 L753.8 1190.4 L742.4 1194.2 L731.0 1201.8 L714.0 1226.4 Z" fill="#e6e7e8"/>
<path d="M1166.1 1118.1 L1171.9 1128.9 L1175.5 1146.8 L1173.3 1166.6 L1167.2 1181.0 L1161.1 1192.8" fill="none" stroke="#e6e7e8" stroke-width="2.2" stroke-dasharray="6 2.5"/>
<path d="M725.4 1163.8 L731.0 1201.8 M770.9 1125.9 L753.8 1143.0 L750.0 1167.6 L742.4 1194.2 M822.1 1080.4 L825.9 1086.0 L837.3 1110.7 M829.7 1057.6 L852.4 1055.7 L905.5 1065.2 L935.9 1072.8 L954.9 1076.6 L1000.0 1084.2 M852.4 1036.7 L875.2 1034.8 L898.0 1012.1 L879.0 993.1 M825.9 1086.0 L867.6 1091.7 L905.5 1080.4 L928.3 1087.9 L951.1 1106.9 M949.8 1075.0 L967.8 1103.7 L978.6 1128.9 M978.6 1067.8 L1021.7 1078.6 L1061.2 1064.2 L1093.6 1062.4 M1010.9 1103.7 L1046.8 1107.3 L1090.0 1096.5 L1143.9 1094.7 M1061.2 1150.4 L1082.8 1128.9 L1118.7 1128.9 L1158.2 1114.5" fill="none" stroke="#c4c5c8" stroke-width="0.8"/>
<text transform="translate(879.7,1181.7) scale(0.7,1)" font-size="18" font-weight="normal" fill="#fff">FLORIDA</text>
<circle cx="1038.7" cy="1234.8" r="17.3" fill="none" stroke="#fff" stroke-width="1.3"/><path d="M1059.5 1254.7 L1018.5 1213.5 M1024.5 1214.0 L1018.5 1213.5 L1019.0 1219.5" fill="none" stroke="#fff" stroke-width="1.3"/><text transform="translate(1018.3,1205.7) scale(0.72,1)" font-size="16.5" font-weight="normal" fill="#fff">N</text>
<rect x="55.4" y="329.0" width="9.7" height="83.2" fill="#e5694f"/>
<rect x="72.2" y="337.5" width="9.7" height="93.7" fill="#e04e39"/>
<rect x="948.4" y="479.6" width="9.7" height="70.7" fill="#ec8d6f"/>
<rect x="568.4" y="520.5" width="9.7" height="76.3" fill="#ec8d6f"/>
<rect x="758.4" y="544.7" width="9.7" height="65.3" fill="#f4b49c"/>
<rect x="820.1" y="531.1" width="9.7" height="82.9" fill="#e5694f"/>
<rect x="247.7" y="599.9" width="9.7" height="92.7" fill="#e04e39"/>
<rect x="361.0" y="635.7" width="9.7" height="65.3" fill="#f4b49c"/>
<rect x="215.2" y="733.0" width="9.7" height="65.8" fill="#f4b49c"/>
<rect x="318.8" y="734.8" width="9.7" height="69.9" fill="#ec8d6f"/>
<rect x="196.7" y="739.4" width="9.7" height="76.3" fill="#ec8d6f"/>
<rect x="567.9" y="740.4" width="9.7" height="77.1" fill="#ec8d6f"/>
<rect x="295.6" y="701.9" width="9.7" height="126.9" fill="#c1161c"/>
<rect x="353.8" y="768.0" width="9.7" height="93.2" fill="#e04e39"/>
<rect x="912.4" y="778.0" width="9.7" height="87.9" fill="#e5694f"/>
<rect x="93.1" y="869.0" width="9.7" height="70.6" fill="#ec8d6f"/>
<rect x="112.0" y="880.4" width="9.7" height="87.6" fill="#e5694f"/>
<rect x="131.0" y="904.7" width="9.7" height="83.1" fill="#e5694f"/>
<rect x="920.4" y="922.6" width="9.7" height="82.9" fill="#e5694f"/>
<rect x="938.2" y="915.0" width="9.7" height="93.2" fill="#e04e39"/>
<rect x="953.9" y="943.9" width="9.7" height="64.7" fill="#f4b49c"/>
<rect x="972.9" y="946.6" width="9.7" height="70.4" fill="#ec8d6f"/>
<rect x="1019.2" y="960.6" width="9.7" height="70.4" fill="#ec8d6f"/>
<rect x="1038.2" y="964.5" width="9.7" height="70.3" fill="#ec8d6f"/>
<rect x="1067.6" y="982.7" width="9.7" height="65.4" fill="#f4b49c"/>
<rect x="1001.0" y="984.2" width="9.7" height="65.8" fill="#f4b49c"/>
<rect x="854.9" y="989.2" width="9.7" height="77.2" fill="#ec8d6f"/>
<rect x="907.4" y="977.0" width="9.7" height="92.4" fill="#e04e39"/>
<rect x="978.9" y="995.3" width="9.7" height="76.8" fill="#ec8d6f"/>
<rect x="1087.8" y="1011.2" width="9.7" height="65.5" fill="#f4b49c"/>
<rect x="1128.9" y="1021.9" width="9.7" height="65.4" fill="#f4b49c"/>
<rect x="961.9" y="1017.0" width="9.7" height="77.2" fill="#e5694f"/>
<rect x="262.9" y="1023.8" width="9.7" height="71.0" fill="#ec8d6f"/>
<rect x="991.1" y="1020.8" width="9.7" height="77.2" fill="#ec8d6f"/>
<rect x="1033.0" y="1061.5" width="9.7" height="65.8" fill="#f4b49c"/>
<rect x="198.5" y="1051.9" width="9.7" height="83.1" fill="#e5694f"/>
<rect x="492.0" y="1076.0" width="9.7" height="64.8" fill="#f4b49c"/>
<rect x="217.8" y="1076.9" width="9.7" height="65.3" fill="#f4b49c"/>
<rect x="1004.0" y="1067.2" width="9.7" height="76.4" fill="#ec8d6f"/>
<rect x="1020.1" y="1067.9" width="9.7" height="83.3" fill="#e5694f"/>
<rect x="530.8" y="1084.2" width="9.7" height="70.6" fill="#ec8d6f"/>
<rect x="508.9" y="1009.0" width="9.7" height="147.6" fill="#c1161c"/>
<rect x="587.4" y="1063.8" width="9.7" height="98.1" fill="#e04e39"/>
<rect x="448.0" y="1078.8" width="9.7" height="92.5" fill="#e04e39"/>
<rect x="755.0" y="1102.4" width="9.7" height="76.6" fill="#ec8d6f"/>
<rect x="573.4" y="1111.8" width="9.7" height="70.2" fill="#ec8d6f"/>
<rect x="597.0" y="1113.2" width="9.7" height="70.2" fill="#ec8d6f"/>
<rect x="434.8" y="1116.4" width="9.7" height="76.3" fill="#ec8d6f"/>
<rect x="1148.7" y="981.6" width="9.7" height="222.9" fill="#9b1c20"/>
<rect x="709.9" y="1144.8" width="9.7" height="70.2" fill="#ec8d6f"/>
<circle cx="1153.5" cy="1204.5" r="9.75" fill="#fff" stroke="#9b1c20" stroke-width="2.1"/><text transform="translate(1150.5,1210.5) scale(0.58,1)" font-size="17.5" font-weight="bold" fill="#111">1</text>
<circle cx="513.8" cy="1156.6" r="9.75" fill="#fff" stroke="#c1161c" stroke-width="2.1"/><text transform="translate(511.0,1162.6) scale(0.58,1)" font-size="17.5" font-weight="bold" fill="#111">2</text>
<circle cx="300.5" cy="828.8" r="9.75" fill="#fff" stroke="#c1161c" stroke-width="2.1"/><text transform="translate(297.8,834.8) scale(0.58,1)" font-size="17.5" font-weight="bold" fill="#111">3</text>
<circle cx="592.2" cy="1161.9" r="9.75" fill="#fff" stroke="#e04e39" stroke-width="2.1"/><text transform="translate(589.3,1167.9) scale(0.58,1)" font-size="17.5" font-weight="bold" fill="#111">4</text>
<circle cx="252.5" cy="692.6" r="9.75" fill="#fff" stroke="#e04e39" stroke-width="2.1"/><text transform="translate(249.7,698.6) scale(0.58,1)" font-size="17.5" font-weight="bold" fill="#111">5</text>
<circle cx="912.3" cy="1069.4" r="9.75" fill="#fff" stroke="#e04e39" stroke-width="2.1"/><text transform="translate(909.5,1075.4) scale(0.58,1)" font-size="17.5" font-weight="bold" fill="#111">6</text>
<circle cx="943.1" cy="1008.2" r="9.75" fill="#fff" stroke="#e04e39" stroke-width="2.1"/><text transform="translate(940.3,1014.2) scale(0.58,1)" font-size="17.5" font-weight="bold" fill="#111">7</text>
<circle cx="358.7" cy="861.2" r="9.75" fill="#fff" stroke="#e04e39" stroke-width="2.1"/><text transform="translate(355.9,867.2) scale(0.58,1)" font-size="17.5" font-weight="bold" fill="#111">8</text>
<circle cx="452.9" cy="1171.3" r="9.75" fill="#fff" stroke="#e04e39" stroke-width="2.1"/><text transform="translate(450.1,1177.3) scale(0.58,1)" font-size="17.5" font-weight="bold" fill="#111">9</text>
<circle cx="77.1" cy="431.2" r="9.75" fill="#fff" stroke="#e04e39" stroke-width="2.1"/><text transform="translate(71.3,437.2) scale(0.58,1)" font-size="17.5" font-weight="bold" fill="#111">10</text>
<circle cx="116.8" cy="968.0" r="9.75" fill="#fff" stroke="#e5694f" stroke-width="2.1"/><text transform="translate(111.3,974.0) scale(0.58,1)" font-size="17.5" font-weight="bold" fill="#111">11</text>
<circle cx="917.2" cy="865.9" r="9.75" fill="#fff" stroke="#e5694f" stroke-width="2.1"/><text transform="translate(911.4,871.9) scale(0.58,1)" font-size="17.5" font-weight="bold" fill="#111">12</text>
<circle cx="203.3" cy="1135.0" r="9.75" fill="#fff" stroke="#e5694f" stroke-width="2.1"/><text transform="translate(197.5,1141.0) scale(0.58,1)" font-size="17.5" font-weight="bold" fill="#111">13</text>
<circle cx="1024.9" cy="1151.2" r="9.75" fill="#fff" stroke="#e5694f" stroke-width="2.1"/><text transform="translate(1018.9,1157.2) scale(0.58,1)" font-size="17.5" font-weight="bold" fill="#111">14</text>
<circle cx="966.7" cy="1094.2" r="9.75" fill="#fff" stroke="#e5694f" stroke-width="2.1"/><text transform="translate(960.9,1100.2) scale(0.58,1)" font-size="17.5" font-weight="bold" fill="#111">15</text>
<circle cx="60.3" cy="412.2" r="9.75" fill="#fff" stroke="#e5694f" stroke-width="2.1"/><text transform="translate(54.5,418.2) scale(0.58,1)" font-size="17.5" font-weight="bold" fill="#111">16</text>
<circle cx="825.0" cy="614.0" r="9.75" fill="#fff" stroke="#e5694f" stroke-width="2.1"/><text transform="translate(819.2,620.0) scale(0.58,1)" font-size="17.5" font-weight="bold" fill="#111">17</text>
<circle cx="135.8" cy="987.8" r="9.75" fill="#fff" stroke="#e5694f" stroke-width="2.1"/><text transform="translate(130.0,993.8) scale(0.58,1)" font-size="17.5" font-weight="bold" fill="#111">18</text>
<circle cx="925.2" cy="1005.5" r="9.75" fill="#fff" stroke="#e5694f" stroke-width="2.1"/><text transform="translate(919.4,1011.5) scale(0.58,1)" font-size="17.5" font-weight="bold" fill="#111">19</text>
<circle cx="759.9" cy="1179.0" r="9.75" fill="#fff" stroke="#ec8d6f" stroke-width="2.1"/><text transform="translate(754.3,1185.0) scale(0.58,1)" font-size="17.5" font-weight="bold" fill="#111">20</text>
<circle cx="859.8" cy="1066.4" r="9.75" fill="#fff" stroke="#ec8d6f" stroke-width="2.1"/><text transform="translate(854.1,1072.4) scale(0.58,1)" font-size="17.5" font-weight="bold" fill="#111">21</text>
<circle cx="996.0" cy="1098.0" r="9.75" fill="#fff" stroke="#ec8d6f" stroke-width="2.1"/><text transform="translate(990.4,1104.0) scale(0.58,1)" font-size="17.5" font-weight="bold" fill="#111">22</text>
<circle cx="572.8" cy="817.5" r="9.75" fill="#fff" stroke="#ec8d6f" stroke-width="2.1"/><text transform="translate(567.2,823.5) scale(0.58,1)" font-size="17.5" font-weight="bold" fill="#111">23</text>
<circle cx="201.5" cy="815.7" r="9.75" fill="#fff" stroke="#ec8d6f" stroke-width="2.1"/><text transform="translate(195.7,821.7) scale(0.58,1)" font-size="17.5" font-weight="bold" fill="#111">24</text>
<circle cx="439.6" cy="1192.7" r="9.75" fill="#fff" stroke="#ec8d6f" stroke-width="2.1"/><text transform="translate(433.9,1198.7) scale(0.58,1)" font-size="17.5" font-weight="bold" fill="#111">25</text>
<circle cx="573.2" cy="596.8" r="9.75" fill="#fff" stroke="#ec8d6f" stroke-width="2.1"/><text transform="translate(567.6,602.8) scale(0.58,1)" font-size="17.5" font-weight="bold" fill="#111">26</text>
<circle cx="983.8" cy="1072.1" r="9.75" fill="#fff" stroke="#ec8d6f" stroke-width="2.1"/><text transform="translate(978.2,1078.1) scale(0.58,1)" font-size="17.5" font-weight="bold" fill="#111">27</text>
<circle cx="1008.9" cy="1143.6" r="9.75" fill="#fff" stroke="#ec8d6f" stroke-width="2.1"/><text transform="translate(1003.2,1149.6) scale(0.58,1)" font-size="17.5" font-weight="bold" fill="#111">28</text>
<circle cx="953.3" cy="550.3" r="9.75" fill="#fff" stroke="#ec8d6f" stroke-width="2.1"/><text transform="translate(947.7,556.3) scale(0.58,1)" font-size="17.5" font-weight="bold" fill="#111">29</text>
<circle cx="601.9" cy="1183.4" r="9.75" fill="#fff" stroke="#ec8d6f" stroke-width="2.1"/><text transform="translate(596.3,1189.4) scale(0.58,1)" font-size="17.5" font-weight="bold" fill="#111">30</text>
<circle cx="1024.1" cy="1031.0" r="9.75" fill="#fff" stroke="#ec8d6f" stroke-width="2.1"/><text transform="translate(1018.5,1037.0) scale(0.58,1)" font-size="17.5" font-weight="bold" fill="#111">31</text>
<circle cx="323.7" cy="804.7" r="9.75" fill="#fff" stroke="#ec8d6f" stroke-width="2.1"/><text transform="translate(318.1,810.7) scale(0.58,1)" font-size="17.5" font-weight="bold" fill="#111">32</text>
<circle cx="267.8" cy="1094.8" r="9.75" fill="#fff" stroke="#ec8d6f" stroke-width="2.1"/><text transform="translate(262.2,1100.8) scale(0.58,1)" font-size="17.5" font-weight="bold" fill="#111">33</text>
<circle cx="714.7" cy="1215.0" r="9.75" fill="#fff" stroke="#ec8d6f" stroke-width="2.1"/><text transform="translate(708.9,1221.0) scale(0.58,1)" font-size="17.5" font-weight="bold" fill="#111">34</text>
<circle cx="97.9" cy="939.6" r="9.75" fill="#fff" stroke="#ec8d6f" stroke-width="2.1"/><text transform="translate(92.3,945.6) scale(0.58,1)" font-size="17.5" font-weight="bold" fill="#111">35</text>
<circle cx="1043.1" cy="1034.8" r="9.75" fill="#fff" stroke="#ec8d6f" stroke-width="2.1"/><text transform="translate(1037.5,1040.8) scale(0.58,1)" font-size="17.5" font-weight="bold" fill="#111">36</text>
<circle cx="578.2" cy="1182.0" r="9.75" fill="#fff" stroke="#ec8d6f" stroke-width="2.1"/><text transform="translate(572.6,1188.0) scale(0.58,1)" font-size="17.5" font-weight="bold" fill="#111">37</text>
<circle cx="535.6" cy="1154.8" r="9.75" fill="#fff" stroke="#ec8d6f" stroke-width="2.1"/><text transform="translate(530.0,1160.8) scale(0.58,1)" font-size="17.5" font-weight="bold" fill="#111">38</text>
<circle cx="977.7" cy="1017.0" r="9.75" fill="#fff" stroke="#ec8d6f" stroke-width="2.1"/><text transform="translate(972.1,1023.0) scale(0.58,1)" font-size="17.5" font-weight="bold" fill="#111">39</text>
<circle cx="220.0" cy="798.8" r="9.75" fill="#fff" stroke="#f4b49c" stroke-width="2.1"/><text transform="translate(214.5,804.8) scale(0.58,1)" font-size="17.5" font-weight="bold" fill="#111">40</text>
<circle cx="1005.9" cy="1050.0" r="9.75" fill="#fff" stroke="#f4b49c" stroke-width="2.1"/><text transform="translate(1000.3,1056.0) scale(0.58,1)" font-size="17.5" font-weight="bold" fill="#111">41</text>
<circle cx="365.9" cy="701.0" r="9.75" fill="#fff" stroke="#f4b49c" stroke-width="2.1"/><text transform="translate(360.4,707.0) scale(0.58,1)" font-size="17.5" font-weight="bold" fill="#111">42</text>
<circle cx="1037.8" cy="1127.3" r="9.75" fill="#fff" stroke="#f4b49c" stroke-width="2.1"/><text transform="translate(1032.3,1133.3) scale(0.58,1)" font-size="17.5" font-weight="bold" fill="#111">43</text>
<circle cx="763.3" cy="610.0" r="9.75" fill="#fff" stroke="#f4b49c" stroke-width="2.1"/><text transform="translate(757.6,616.0) scale(0.58,1)" font-size="17.5" font-weight="bold" fill="#111">44</text>
<circle cx="222.7" cy="1142.2" r="9.75" fill="#fff" stroke="#f4b49c" stroke-width="2.1"/><text transform="translate(217.1,1148.2) scale(0.58,1)" font-size="17.5" font-weight="bold" fill="#111">45</text>
<circle cx="1133.7" cy="1087.3" r="9.75" fill="#fff" stroke="#f4b49c" stroke-width="2.1"/><text transform="translate(1128.1,1093.3) scale(0.58,1)" font-size="17.5" font-weight="bold" fill="#111">45</text>
<circle cx="1092.6" cy="1076.7" r="9.75" fill="#fff" stroke="#f4b49c" stroke-width="2.1"/><text transform="translate(1087.1,1082.7) scale(0.58,1)" font-size="17.5" font-weight="bold" fill="#111">47</text>
<circle cx="496.9" cy="1140.8" r="9.75" fill="#fff" stroke="#f4b49c" stroke-width="2.1"/><text transform="translate(491.3,1146.8) scale(0.58,1)" font-size="17.5" font-weight="bold" fill="#111">48</text>
<circle cx="1072.4" cy="1048.1" r="9.75" fill="#fff" stroke="#f4b49c" stroke-width="2.1"/><text transform="translate(1066.8,1054.1) scale(0.58,1)" font-size="17.5" font-weight="bold" fill="#111">48</text>
<circle cx="958.7" cy="1008.6" r="9.75" fill="#fff" stroke="#f4b49c" stroke-width="2.1"/><text transform="translate(953.1,1014.6) scale(0.58,1)" font-size="17.5" font-weight="bold" fill="#111">50</text>
<rect x="0" y="0" width="1201" height="323" fill="#98999c"/>
<g transform="translate(840,20) scale(0.3804)" stroke-linejoin="round" stroke-linecap="round">
<!-- red ring -->
<circle cx="480" cy="355" r="277" fill="#fff" stroke="#c4161c" stroke-width="42"/>
<!-- wheels -->
<circle cx="160" cy="648" r="139" fill="#fff" stroke="#6d6e71" stroke-width="17"/>
<circle cx="160" cy="648" r="86" fill="#fff" stroke="#6d6e71" stroke-width="9"/>
<circle cx="737" cy="648" r="139" fill="#fff" stroke="#6d6e71" stroke-width="17"/>
<circle cx="737" cy="648" r="86" fill="#fff" stroke="#6d6e71" stroke-width="9"/>
<!-- lower body -->
<path d="M262 468 L262 530 L380 600 L380 672 L545 672 Q572 668 572 640 L572 560 L600 470 Z" fill="#fff" stroke="#6d6e71" stroke-width="9"/>
<!-- tank dome -->
<path d="M355 468 L355 420 Q420 325 515 328 Q615 335 662 468 Z" fill="#fff" stroke="#6d6e71" stroke-width="10"/>
<!-- engine -->
<path d="M388 510 L606 510 L560 635 L420 635 Z" fill="#fff" stroke="#6d6e71" stroke-width="9"/>
<circle cx="490" cy="588" r="47" fill="#fff" stroke="#6d6e71" stroke-width="15"/>
<!-- seat -->
<path d="M85 420 L108 398 L168 450 L357 452 L357 468 L150 468 Z" fill="#fff" stroke="#6d6e71" stroke-width="9"/>
<rect x="165" y="412" width="120" height="24" fill="#3a3a3c"/>
<!-- exhaust -->
<path d="M125 625 L372 648 L380 690 L155 697 Z" fill="#fff" stroke="#6d6e71" stroke-width="9"/>
<!-- fork -->
<path d="M600 292 L632 290 L752 618 L736 636 Z" fill="#fff" stroke="#6d6e71" stroke-width="9"/>
<path d="M556 322 L606 292" fill="none" stroke="#6d6e71" stroke-width="10"/>
<!-- headlight -->
<path d="M690 275 Q650 290 650 335 Q650 380 690 395 Z" fill="#fff" stroke="#6d6e71" stroke-width="9"/>
<rect x="690" y="271" width="22" height="128" fill="#fff" stroke="#6d6e71" stroke-width="8"/>
<!-- briefcase -->
<rect x="112" y="255" width="80" height="40" rx="10" fill="none" stroke="#d9b02f" stroke-width="11"/>
<rect x="50" y="282" width="208" height="130" rx="12" fill="#7e5e36"/>
<path d="M62 282 H246 Q258 282 258 294 V350 L50 362 V294 Q50 282 62 282Z" fill="#574325"/>
<g stroke="#fff" stroke-width="2.2" fill="none" opacity="0.9"><path d="M92 284 Q86 350 92 410"/><path d="M128 284 Q122 350 130 412"/><path d="M170 284 Q168 350 176 412"/><path d="M212 284 Q212 350 220 412"/><path d="M52 318 Q150 308 258 316"/><path d="M52 348 Q150 338 258 346"/><path d="M54 384 Q150 376 258 384"/></g>
<rect x="136" y="356" width="38" height="22" rx="9" fill="none" stroke="#e5c12f" stroke-width="8"/>
<!-- rider legs -->
<path d="M258 375 L365 368 L450 430 Q470 462 440 495 L345 545 L356 600 L335 642 L305 622 L250 545 Q258 520 285 505 L358 460 L290 440 Z" fill="#ef8f3f"/>
<!-- body -->
<path d="M392 143 Q300 200 236 308 L330 350 L420 272 Q450 250 478 262 L545 318 L556 322 L585 300 L572 275 L548 280 L440 155 Z" fill="#363638"/>
<!-- helmet -->
<path d="M472 40 Q535 42 532 115 L528 160 L488 184 L440 150 Q408 130 412 95 Q418 42 472 40Z" fill="#363638"/>
</g>

<line x1="26" y1="14" x2="1170" y2="14" stroke="#414143" stroke-width="1.6"/>
<circle cx="26" cy="14" r="7.5" fill="#414143"/><circle cx="1170" cy="14" r="7.5" fill="#414143"/>
<text id="w1" transform="translate(23.75,115.60) scale(0.5155,1)" font-size="107" font-weight="bold" fill="#414143"  letter-spacing="9">THE </text><use href="#w1" x="-3.30"/><use href="#w1" x="-1.65"/><use href="#w1" x="1.65"/><use href="#w1" x="3.30"/>
<text id="w2" transform="translate(163.59,115.60) scale(0.6565,1)" font-size="107" font-weight="bold" fill="#414143"  letter-spacing="9">50 </text><use href="#w2" x="-3.30"/><use href="#w2" x="-1.65"/><use href="#w2" x="1.65"/><use href="#w2" x="3.30"/>
<text id="w3" transform="translate(266.73,115.60) scale(0.5253,1)" font-size="107" font-weight="bold" fill="#414143"  letter-spacing="9">U.S. </text><use href="#w3" x="-3.30"/><use href="#w3" x="-1.65"/><use href="#w3" x="1.65"/><use href="#w3" x="3.30"/>
<text id="w4" transform="translate(410.01,115.60) scale(0.5343,1)" font-size="107" font-weight="bold" fill="#414143"  letter-spacing="9">CITIES </text><use href="#w4" x="-3.30"/><use href="#w4" x="-1.65"/><use href="#w4" x="1.65"/><use href="#w4" x="3.30"/>
<text id="w5" transform="translate(638.90,115.60) scale(0.5333,1)" font-size="107" font-weight="bold" fill="#414143"  letter-spacing="9">WHERE </text><use href="#w5" x="-3.30"/><use href="#w5" x="-1.65"/><use href="#w5" x="1.65"/><use href="#w5" x="3.30"/>
<text id="w6" transform="translate(23.75,200.40) scale(0.5155,1)" font-size="107" font-weight="bold" fill="#414143"  letter-spacing="9">THE </text><use href="#w6" x="-3.30"/><use href="#w6" x="-1.65"/><use href="#w6" x="1.65"/><use href="#w6" x="3.30"/>
<text id="w7" transform="translate(162.41,200.40) scale(0.5440,1)" font-size="107" font-weight="bold" fill="#414143"  letter-spacing="9">MOST </text><use href="#w7" x="-3.30"/><use href="#w7" x="-1.65"/><use href="#w7" x="1.65"/><use href="#w7" x="3.30"/>
<text id="w8" transform="translate(371.42,200.40) scale(0.4948,1)" font-size="107" font-weight="bold" fill="#414143"  letter-spacing="9">PEOPLE </text><use href="#w8" x="-3.30"/><use href="#w8" x="-1.65"/><use href="#w8" x="1.65"/><use href="#w8" x="3.30"/>
<text id="w9" transform="translate(629.15,200.40) scale(0.5103,1)" font-size="107" font-weight="bold" fill="#414143"  letter-spacing="9">TAKE </text><use href="#w9" x="-3.30"/><use href="#w9" x="-1.65"/><use href="#w9" x="1.65"/><use href="#w9" x="3.30"/>
<text id="w10" transform="translate(22.27,286.20) scale(0.4810,1)" font-size="107" font-weight="bold" fill="#414143"  letter-spacing="9">A </text><use href="#w10" x="-3.30"/><use href="#w10" x="-1.65"/><use href="#w10" x="1.65"/><use href="#w10" x="3.30"/>
<text id="w11" transform="translate(77.24,286.20) scale(0.5237,1)" font-size="107" font-weight="bold" fill="#c2181e"  letter-spacing="9">MOTORCYCLE </text><use href="#w11" x="-3.30"/><use href="#w11" x="-1.65"/><use href="#w11" x="1.65"/><use href="#w11" x="3.30"/>
<text id="w12" transform="translate(536.72,286.20) scale(0.5447,1)" font-size="107" font-weight="bold" fill="#c2181e"  letter-spacing="9">TO </text><use href="#w12" x="-3.30"/><use href="#w12" x="-1.65"/><use href="#w12" x="1.65"/><use href="#w12" x="3.30"/>
<text id="w13" transform="translate(639.30,286.20) scale(0.5482,1)" font-size="107" font-weight="bold" fill="#c2181e"  letter-spacing="9">WORK </text><use href="#w13" x="-3.30"/><use href="#w13" x="-1.65"/><use href="#w13" x="1.65"/><use href="#w13" x="3.30"/>
<rect x="72" y="320" width="96" height="8" fill="#e6e7e8"/>
<rect x="244" y="320" width="96" height="8" fill="#e6e7e8"/>
<rect x="416" y="320" width="96" height="8" fill="#e6e7e8"/>
<rect x="588" y="320" width="96" height="8" fill="#e6e7e8"/>
<rect x="760" y="320" width="96" height="8" fill="#e6e7e8"/>
<rect x="932" y="320" width="96" height="8" fill="#e6e7e8"/>
<rect x="1104" y="320" width="96" height="8" fill="#e6e7e8"/>
<rect x="72" y="1305" width="96" height="7.2" fill="#e6e7e8"/><rect x="244" y="1305" width="96" height="7.2" fill="#e6e7e8"/><rect x="416" y="1305" width="96" height="7.2" fill="#e6e7e8"/><rect x="588" y="1305" width="96" height="7.2" fill="#e6e7e8"/><rect x="760" y="1305" width="96" height="7.2" fill="#e6e7e8"/><rect x="932" y="1305" width="96" height="7.2" fill="#e6e7e8"/><rect x="1104" y="1305" width="96" height="7.2" fill="#e6e7e8"/>
<rect x="439.45" y="1371" width="1.3" height="1890" fill="#d3d4d6"/>
<rect x="615.05" y="1371" width="1.3" height="1890" fill="#d3d4d6"/>
<rect x="790.95" y="1371" width="1.3" height="1890" fill="#d3d4d6"/>
<rect x="967.05" y="1371" width="1.3" height="1713.5" fill="#d3d4d6"/>
<rect x="1143.15" y="1371" width="1.3" height="1706.5" fill="#d3d4d6"/>
<text id="w14" transform="translate(22.28,1370.60) scale(0.5258,1)" font-size="41.4" font-weight="bold" fill="#414143"  letter-spacing="3">TOP </text><use href="#w14" x="-1.60"/><use href="#w14" x="1.60"/>
<text id="w15" transform="translate(81.04,1370.60) scale(0.6953,1)" font-size="41.4" font-weight="bold" fill="#414143"  letter-spacing="3">50 </text><use href="#w15" x="-1.60"/><use href="#w15" x="1.60"/>
<text id="w16" transform="translate(122.66,1370.60) scale(0.5660,1)" font-size="41.4" font-weight="bold" fill="#414143"  letter-spacing="3">CITIES </text><use href="#w16" x="-1.60"/><use href="#w16" x="1.60"/>
<text id="w17" transform="translate(213.35,1370.60) scale(0.5040,1)" font-size="41.4" font-weight="bold" fill="#414143"  letter-spacing="3">BY </text><use href="#w17" x="-1.60"/><use href="#w17" x="1.60"/>
<text id="w18" transform="translate(251.86,1370.60) scale(0.5386,1)" font-size="41.4" font-weight="bold" fill="#414143"  letter-spacing="3">PERCENTAGE </text><use href="#w18" x="-1.60"/><use href="#w18" x="1.60"/>
<text id="w19" transform="translate(430.79,1370.60) scale(0.4917,1)" font-size="41.4" font-weight="bold" fill="#414143"  letter-spacing="3">OF </text><use href="#w19" x="-1.60"/><use href="#w19" x="1.60"/>
<text id="w20" transform="translate(471.21,1370.60) scale(0.5612,1)" font-size="41.4" font-weight="bold" fill="#414143"  letter-spacing="3">POPULATION </text><use href="#w20" x="-1.60"/><use href="#w20" x="1.60"/>
<text id="w21" transform="translate(646.78,1370.60) scale(0.5283,1)" font-size="41.4" font-weight="bold" fill="#414143"  letter-spacing="3">THAT </text><use href="#w21" x="-1.60"/><use href="#w21" x="1.60"/>
<text id="w22" transform="translate(717.07,1370.60) scale(0.5353,1)" font-size="41.4" font-weight="bold" fill="#414143"  letter-spacing="3">RIDES </text><use href="#w22" x="-1.60"/><use href="#w22" x="1.60"/>
<text id="w23" transform="translate(800.19,1370.60) scale(0.4902,1)" font-size="41.4" font-weight="bold" fill="#414143"  letter-spacing="3">A </text><use href="#w23" x="-1.60"/><use href="#w23" x="1.60"/>
<text id="w24" transform="translate(822.64,1370.60) scale(0.5489,1)" font-size="41.4" font-weight="bold" fill="#414143"  letter-spacing="3">MOTORCYCLE </text><use href="#w24" x="-1.60"/><use href="#w24" x="1.60"/>
<text id="w25" transform="translate(1008.98,1370.60) scale(0.5367,1)" font-size="41.4" font-weight="bold" fill="#414143"  letter-spacing="3">TO </text><use href="#w25" x="-1.60"/><use href="#w25" x="1.60"/>
<text id="w26" transform="translate(1051.60,1370.60) scale(0.5415,1)" font-size="41.4" font-weight="bold" fill="#414143"  letter-spacing="3">WORK </text><use href="#w26" x="-1.60"/><use href="#w26" x="1.60"/>
<rect x="439.5" y="1399.20" width="689.5" height="33.6" fill="#838487"/>
<text transform="translate(85.51,1424.50) scale(0.9656,1)" font-size="25.7" font-weight="bold" fill="#0a0a0a" stroke="#0a0a0a" stroke-width="0.5">Key West, </text>
<text transform="translate(208.34,1424.50) scale(0.9632,1)" font-size="25.7" font-weight="bold" fill="#fff" stroke="#fff" stroke-width="0.7">FL </text>
<text transform="translate(1136.2,1424.5) scale(1.012,1)" font-size="25.7" font-weight="bold" fill="#0a0a0a" stroke="#0a0a0a" stroke-width="0.5">3.9%</text>
<circle cx="28.0" cy="1419.6" r="10.50" fill="#fff" stroke="#8e1b1f" stroke-width="2.0"/><text transform="translate(24.92,1425.81) scale(0.58,1)" font-size="18" font-weight="bold" fill="#111">1</text>
<rect x="439.5" y="1436.18" width="442.0" height="33.6" fill="#838487"/>
<text transform="translate(85.47,1461.48) scale(0.9906,1)" font-size="25.7" font-weight="bold" fill="#0a0a0a" stroke="#0a0a0a" stroke-width="0.5">Napili-Honokowai, </text>
<text transform="translate(311.54,1461.48) scale(1.0039,1)" font-size="25.7" font-weight="bold" fill="#fff" stroke="#fff" stroke-width="0.7">HI </text>
<text transform="translate(888.7,1461.5) scale(1.012,1)" font-size="25.7" font-weight="bold" fill="#0a0a0a" stroke="#0a0a0a" stroke-width="0.5">2.5%</text>
<circle cx="28.0" cy="1456.6" r="10.50" fill="#fff" stroke="#e04e39" stroke-width="2.0"/><text transform="translate(25.13,1462.79) scale(0.58,1)" font-size="18" font-weight="bold" fill="#111">2</text>
<rect x="439.5" y="1473.16" width="371.3" height="33.6" fill="#838487"/>
<text transform="translate(87.00,1498.46) scale(0.9990,1)" font-size="25.7" font-weight="bold" fill="#0a0a0a" stroke="#0a0a0a" stroke-width="0.5">Vail, </text>
<text transform="translate(142.75,1498.46) scale(0.9138,1)" font-size="25.7" font-weight="bold" fill="#fff" stroke="#fff" stroke-width="0.7">AZ </text>
<text transform="translate(818.0,1498.5) scale(1.012,1)" font-size="25.7" font-weight="bold" fill="#0a0a0a" stroke="#0a0a0a" stroke-width="0.5">2.1%</text>
<circle cx="28.0" cy="1493.6" r="10.50" fill="#fff" stroke="#e04e39" stroke-width="2.0"/><text transform="translate(25.18,1499.77) scale(0.58,1)" font-size="18" font-weight="bold" fill="#111">3</text>
<rect x="439.5" y="1510.14" width="282.9" height="33.6" fill="#838487"/>
<text transform="translate(87.00,1535.44) scale(0.9841,1)" font-size="25.7" font-weight="bold" fill="#0a0a0a" stroke="#0a0a0a" stroke-width="0.5">Waikoloa Village, </text>
<text transform="translate(297.60,1535.44) scale(1.0225,1)" font-size="25.7" font-weight="bold" fill="#fff" stroke="#fff" stroke-width="0.7">HI </text>
<text transform="translate(729.6,1535.4) scale(1.012,1)" font-size="25.7" font-weight="bold" fill="#0a0a0a" stroke="#0a0a0a" stroke-width="0.5">1.6%</text>
<circle cx="28.0" cy="1530.5" r="10.50" fill="#fff" stroke="#e04e39" stroke-width="2.0"/><text transform="translate(25.02,1536.75) scale(0.58,1)" font-size="18" font-weight="bold" fill="#111">4</text>
<rect x="439.5" y="1547.12" width="265.2" height="33.6" fill="#838487"/>
<text transform="translate(85.44,1572.42) scale(1.0135,1)" font-size="25.7" font-weight="bold" fill="#0a0a0a" stroke="#0a0a0a" stroke-width="0.5">Hurricane, </text>
<text transform="translate(218.49,1572.42) scale(0.9411,1)" font-size="25.7" font-weight="bold" fill="#fff" stroke="#fff" stroke-width="0.7">UT </text>
<text transform="translate(711.9,1572.4) scale(1.012,1)" font-size="25.7" font-weight="bold" fill="#0a0a0a" stroke="#0a0a0a" stroke-width="0.5">1.5%</text>
<circle cx="28.0" cy="1567.5" r="10.50" fill="#fff" stroke="#e04e39" stroke-width="2.0"/><text transform="translate(25.08,1573.73) scale(0.58,1)" font-size="18" font-weight="bold" fill="#111">5</text>
<rect x="439.5" y="1584.10" width="265.2" height="33.6" fill="#838487"/>
<text transform="translate(85.45,1609.40) scale(1.0067,1)" font-size="25.7" font-weight="bold" fill="#0a0a0a" stroke="#0a0a0a" stroke-width="0.5">Floral City, </text>
<text transform="translate(222.69,1609.40) scale(0.9488,1)" font-size="25.7" font-weight="bold" fill="#fff" stroke="#fff" stroke-width="0.7">FL </text>
<text transform="translate(711.9,1609.4) scale(1.012,1)" font-size="25.7" font-weight="bold" fill="#0a0a0a" stroke="#0a0a0a" stroke-width="0.5">1.5%</text>
<circle cx="28.0" cy="1604.5" r="10.50" fill="#fff" stroke="#e04e39" stroke-width="2.0"/><text transform="translate(25.13,1610.71) scale(0.58,1)" font-size="18" font-weight="bold" fill="#111">6</text>
<rect x="439.5" y="1621.08" width="265.2" height="33.6" fill="#838487"/>
<text transform="translate(85.43,1646.38) scale(1.0176,1)" font-size="25.7" font-weight="bold" fill="#0a0a0a" stroke="#0a0a0a" stroke-width="0.5">Holly Hill, </text>
<text transform="translate(209.18,1646.38) scale(0.9632,1)" font-size="25.7" font-weight="bold" fill="#fff" stroke="#fff" stroke-width="0.7">FL </text>
<text transform="translate(711.9,1646.4) scale(1.012,1)" font-size="25.7" font-weight="bold" fill="#0a0a0a" stroke="#0a0a0a" stroke-width="0.5">1.5%</text>
<circle cx="28.0" cy="1641.5" r="10.50" fill="#fff" stroke="#e04e39" stroke-width="2.0"/><text transform="translate(25.08,1647.69) scale(0.58,1)" font-size="18" font-weight="bold" fill="#111">7</text>
<rect x="439.5" y="1658.06" width="265.2" height="33.6" fill="#838487"/>
<text transform="translate(85.47,1683.36) scale(0.9912,1)" font-size="25.7" font-weight="bold" fill="#0a0a0a" stroke="#0a0a0a" stroke-width="0.5">Fort Bliss, </text>
<text transform="translate(215.48,1683.36) scale(0.9496,1)" font-size="25.7" font-weight="bold" fill="#fff" stroke="#fff" stroke-width="0.7">TX </text>
<text transform="translate(711.9,1683.4) scale(1.012,1)" font-size="25.7" font-weight="bold" fill="#0a0a0a" stroke="#0a0a0a" stroke-width="0.5">1.5%</text>
<circle cx="28.0" cy="1678.5" r="10.50" fill="#fff" stroke="#e04e39" stroke-width="2.0"/><text transform="translate(25.08,1684.67) scale(0.58,1)" font-size="18" font-weight="bold" fill="#111">8</text>
<rect x="439.5" y="1695.04" width="265.2" height="33.6" fill="#838487"/>
<text transform="translate(85.51,1720.34) scale(0.9686,1)" font-size="25.7" font-weight="bold" fill="#0a0a0a" stroke="#0a0a0a" stroke-width="0.5">Kaneohe Station, </text>
<text transform="translate(294.68,1720.34) scale(1.0039,1)" font-size="25.7" font-weight="bold" fill="#fff" stroke="#fff" stroke-width="0.7">HI </text>
<text transform="translate(711.9,1720.3) scale(1.012,1)" font-size="25.7" font-weight="bold" fill="#0a0a0a" stroke="#0a0a0a" stroke-width="0.5">1.5%</text>
<circle cx="28.0" cy="1715.4" r="10.50" fill="#fff" stroke="#e04e39" stroke-width="2.0"/><text transform="translate(25.13,1721.65) scale(0.58,1)" font-size="18" font-weight="bold" fill="#111">9</text>
<rect x="439.5" y="1732.02" width="265.2" height="33.6" fill="#838487"/>
<text transform="translate(87.00,1757.32) scale(0.9354,1)" font-size="25.7" font-weight="bold" fill="#0a0a0a" stroke="#0a0a0a" stroke-width="0.5">Vashon, </text>
<text transform="translate(185.37,1757.32) scale(0.9601,1)" font-size="25.7" font-weight="bold" fill="#fff" stroke="#fff" stroke-width="0.7">WA </text>
<text transform="translate(711.9,1757.3) scale(1.012,1)" font-size="25.7" font-weight="bold" fill="#0a0a0a" stroke="#0a0a0a" stroke-width="0.5">1.5%</text>
<circle cx="28.0" cy="1752.4" r="10.50" fill="#fff" stroke="#e04e39" stroke-width="2.0"/><text transform="translate(22.07,1758.63) scale(0.58,1)" font-size="18" font-weight="bold" fill="#111">10</text>
<rect x="439.5" y="1769.00" width="247.5" height="33.6" fill="#838487"/>
<text transform="translate(85.45,1794.30) scale(1.0022,1)" font-size="25.7" font-weight="bold" fill="#0a0a0a" stroke="#0a0a0a" stroke-width="0.5">Ione, </text>
<text transform="translate(150.76,1794.30) scale(0.8662,1)" font-size="25.7" font-weight="bold" fill="#fff" stroke="#fff" stroke-width="0.7">CA </text>
<text transform="translate(694.2,1794.3) scale(1.012,1)" font-size="25.7" font-weight="bold" fill="#0a0a0a" stroke="#0a0a0a" stroke-width="0.5">1.4%</text>
<circle cx="28.0" cy="1789.4" r="10.50" fill="#fff" stroke="#e5694f" stroke-width="2.0"/><text transform="translate(22.31,1795.61) scale(0.58,1)" font-size="18" font-weight="bold" fill="#111">11</text>
<rect x="439.5" y="1805.98" width="247.5" height="33.6" fill="#838487"/>
<text transform="translate(85.41,1831.28) scale(1.0320,1)" font-size="25.7" font-weight="bold" fill="#0a0a0a" stroke="#0a0a0a" stroke-width="0.5">Barretts, </text>
<text transform="translate(200.09,1831.28) scale(0.8555,1)" font-size="25.7" font-weight="bold" fill="#fff" stroke="#fff" stroke-width="0.7">GA </text>
<text transform="translate(694.2,1831.3) scale(1.012,1)" font-size="25.7" font-weight="bold" fill="#0a0a0a" stroke="#0a0a0a" stroke-width="0.5">1.4%</text>
<circle cx="28.0" cy="1826.4" r="10.50" fill="#fff" stroke="#e5694f" stroke-width="2.0"/><text transform="translate(22.07,1832.59) scale(0.58,1)" font-size="18" font-weight="bold" fill="#111">12</text>
<rect x="439.5" y="1842.96" width="229.8" height="33.6" fill="#838487"/>
<text transform="translate(87.00,1868.26) scale(1.0040,1)" font-size="25.7" font-weight="bold" fill="#0a0a0a" stroke="#0a0a0a" stroke-width="0.5">West Imperial, </text>
<text transform="translate(266.68,1868.26) scale(0.8662,1)" font-size="25.7" font-weight="bold" fill="#fff" stroke="#fff" stroke-width="0.7">CA </text>
<text transform="translate(676.5,1868.3) scale(1.012,1)" font-size="25.7" font-weight="bold" fill="#0a0a0a" stroke="#0a0a0a" stroke-width="0.5">1.3%</text>
<circle cx="28.0" cy="1863.4" r="10.50" fill="#fff" stroke="#e5694f" stroke-width="2.0"/><text transform="translate(22.07,1869.57) scale(0.58,1)" font-size="18" font-weight="bold" fill="#111">13</text>
<rect x="439.5" y="1879.94" width="229.8" height="33.6" fill="#838487"/>
<text transform="translate(86.02,1905.24) scale(0.9530,1)" font-size="25.7" font-weight="bold" fill="#0a0a0a" stroke="#0a0a0a" stroke-width="0.5">Osprey, </text>
<text transform="translate(180.94,1905.24) scale(0.9632,1)" font-size="25.7" font-weight="bold" fill="#fff" stroke="#fff" stroke-width="0.7">FL </text>
<text transform="translate(676.5,1905.2) scale(1.012,1)" font-size="25.7" font-weight="bold" fill="#0a0a0a" stroke="#0a0a0a" stroke-width="0.5">1.3%</text>
<circle cx="28.0" cy="1900.3" r="10.50" fill="#fff" stroke="#e5694f" stroke-width="2.0"/><text transform="translate(21.86,1906.55) scale(0.58,1)" font-size="18" font-weight="bold" fill="#111">14</text>
<rect x="439.5" y="1916.92" width="229.8" height="33.6" fill="#838487"/>
<text transform="translate(86.50,1942.22) scale(0.9778,1)" font-size="25.7" font-weight="bold" fill="#0a0a0a" stroke="#0a0a0a" stroke-width="0.5">Zephyrhills South, </text>
<text transform="translate(311.60,1942.22) scale(0.9632,1)" font-size="25.7" font-weight="bold" fill="#fff" stroke="#fff" stroke-width="0.7">FL </text>
<text transform="translate(676.5,1942.2) scale(1.012,1)" font-size="25.7" font-weight="bold" fill="#0a0a0a" stroke="#0a0a0a" stroke-width="0.5">1.3%</text>
<circle cx="28.0" cy="1937.3" r="10.50" fill="#fff" stroke="#e5694f" stroke-width="2.0"/><text transform="translate(22.02,1943.53) scale(0.58,1)" font-size="18" font-weight="bold" fill="#111">15</text>
<rect x="439.5" y="1953.90" width="229.8" height="33.6" fill="#838487"/>
<text transform="translate(85.48,1979.20) scale(0.9848,1)" font-size="25.7" font-weight="bold" fill="#0a0a0a" stroke="#0a0a0a" stroke-width="0.5">Bainbridge Island, </text>
<text transform="translate(310.56,1979.20) scale(0.9601,1)" font-size="25.7" font-weight="bold" fill="#fff" stroke="#fff" stroke-width="0.7">WA </text>
<text transform="translate(676.5,1979.2) scale(1.012,1)" font-size="25.7" font-weight="bold" fill="#0a0a0a" stroke="#0a0a0a" stroke-width="0.5">1.3%</text>
<circle cx="28.0" cy="1974.3" r="10.50" fill="#fff" stroke="#e5694f" stroke-width="2.0"/><text transform="translate(22.07,1980.51) scale(0.58,1)" font-size="18" font-weight="bold" fill="#111">16</text>
<rect x="439.5" y="1990.88" width="229.8" height="33.6" fill="#838487"/>
<text transform="translate(86.49,2016.18) scale(0.9921,1)" font-size="25.7" font-weight="bold" fill="#0a0a0a" stroke="#0a0a0a" stroke-width="0.5">Alexandria, </text>
<text transform="translate(229.22,2016.18) scale(1.0836,1)" font-size="25.7" font-weight="bold" fill="#fff" stroke="#fff" stroke-width="0.7">IN </text>
<text transform="translate(676.5,2016.2) scale(1.012,1)" font-size="25.7" font-weight="bold" fill="#0a0a0a" stroke="#0a0a0a" stroke-width="0.5">1.3%</text>
<circle cx="28.0" cy="2011.3" r="10.50" fill="#fff" stroke="#e5694f" stroke-width="2.0"/><text transform="translate(22.07,2017.49) scale(0.58,1)" font-size="18" font-weight="bold" fill="#111">17</text>
<rect x="439.5" y="2027.86" width="229.8" height="33.6" fill="#838487"/>
<text transform="translate(85.52,2053.16) scale(0.9576,1)" font-size="25.7" font-weight="bold" fill="#0a0a0a" stroke="#0a0a0a" stroke-width="0.5">Keyes, </text>
<text transform="translate(170.56,2053.16) scale(0.8781,1)" font-size="25.7" font-weight="bold" fill="#fff" stroke="#fff" stroke-width="0.7">CA </text>
<text transform="translate(676.5,2053.2) scale(1.012,1)" font-size="25.7" font-weight="bold" fill="#0a0a0a" stroke="#0a0a0a" stroke-width="0.5">1.3%</text>
<circle cx="28.0" cy="2048.3" r="10.50" fill="#fff" stroke="#e5694f" stroke-width="2.0"/><text transform="translate(22.02,2054.47) scale(0.58,1)" font-size="18" font-weight="bold" fill="#111">18</text>
<rect x="439.5" y="2064.84" width="229.8" height="33.6" fill="#838487"/>
<text transform="translate(85.97,2090.14) scale(1.0005,1)" font-size="25.7" font-weight="bold" fill="#0a0a0a" stroke="#0a0a0a" stroke-width="0.5">Ormond-by-the-Sea, </text>
<text transform="translate(338.58,2090.14) scale(0.9632,1)" font-size="25.7" font-weight="bold" fill="#fff" stroke="#fff" stroke-width="0.7">FL </text>
<text transform="translate(676.5,2090.1) scale(1.012,1)" font-size="25.7" font-weight="bold" fill="#0a0a0a" stroke="#0a0a0a" stroke-width="0.5">1.3%</text>
<circle cx="28.0" cy="2085.2" r="10.50" fill="#fff" stroke="#e5694f" stroke-width="2.0"/><text transform="translate(22.07,2091.45) scale(0.58,1)" font-size="18" font-weight="bold" fill="#111">19</text>
<rect x="439.5" y="2101.82" width="212.2" height="33.6" fill="#838487"/>
<text transform="translate(85.46,2127.12) scale(0.9975,1)" font-size="25.7" font-weight="bold" fill="#0a0a0a" stroke="#0a0a0a" stroke-width="0.5">Eglin, </text>
<text transform="translate(160.26,2127.12) scale(0.9776,1)" font-size="25.7" font-weight="bold" fill="#fff" stroke="#fff" stroke-width="0.7">FL </text>
<text transform="translate(658.9,2127.1) scale(1.012,1)" font-size="25.7" font-weight="bold" fill="#0a0a0a" stroke="#0a0a0a" stroke-width="0.5">1.2%</text>
<circle cx="28.0" cy="2122.2" r="10.50" fill="#fff" stroke="#ec8d6f" stroke-width="2.0"/><text transform="translate(22.23,2128.43) scale(0.58,1)" font-size="18" font-weight="bold" fill="#111">20</text>
<rect x="439.5" y="2138.80" width="212.2" height="33.6" fill="#838487"/>
<text transform="translate(85.45,2164.10) scale(1.0067,1)" font-size="25.7" font-weight="bold" fill="#0a0a0a" stroke="#0a0a0a" stroke-width="0.5">McAlpin-Wellborn, </text>
<text transform="translate(317.50,2164.10) scale(0.9632,1)" font-size="25.7" font-weight="bold" fill="#fff" stroke="#fff" stroke-width="0.7">FL </text>
<text transform="translate(658.9,2164.1) scale(1.012,1)" font-size="25.7" font-weight="bold" fill="#0a0a0a" stroke="#0a0a0a" stroke-width="0.5">1.2%</text>
<circle cx="28.0" cy="2159.2" r="10.50" fill="#fff" stroke="#ec8d6f" stroke-width="2.0"/><text transform="translate(22.17,2165.41) scale(0.58,1)" font-size="18" font-weight="bold" fill="#111">21</text>
<rect x="439.5" y="2175.78" width="212.2" height="33.6" fill="#838487"/>
<text transform="translate(85.43,2201.08) scale(1.0197,1)" font-size="25.7" font-weight="bold" fill="#0a0a0a" stroke="#0a0a0a" stroke-width="0.5">Medulla, </text>
<text transform="translate(195.69,2201.08) scale(0.9632,1)" font-size="25.7" font-weight="bold" fill="#fff" stroke="#fff" stroke-width="0.7">FL </text>
<text transform="translate(658.9,2201.1) scale(1.012,1)" font-size="25.7" font-weight="bold" fill="#0a0a0a" stroke="#0a0a0a" stroke-width="0.5">1.2%</text>
<circle cx="28.0" cy="2196.2" r="10.50" fill="#fff" stroke="#ec8d6f" stroke-width="2.0"/><text transform="translate(22.23,2202.39) scale(0.58,1)" font-size="18" font-weight="bold" fill="#111">22</text>
<rect x="439.5" y="2212.76" width="212.2" height="33.6" fill="#838487"/>
<text transform="translate(85.99,2238.06) scale(0.9816,1)" font-size="25.7" font-weight="bold" fill="#0a0a0a" stroke="#0a0a0a" stroke-width="0.5">Celina, </text>
<text transform="translate(175.45,2238.06) scale(0.9105,1)" font-size="25.7" font-weight="bold" fill="#fff" stroke="#fff" stroke-width="0.7">TX </text>
<text transform="translate(658.9,2238.1) scale(1.012,1)" font-size="25.7" font-weight="bold" fill="#0a0a0a" stroke="#0a0a0a" stroke-width="0.5">1.2%</text>
<circle cx="28.0" cy="2233.2" r="10.50" fill="#fff" stroke="#ec8d6f" stroke-width="2.0"/><text transform="translate(22.23,2239.37) scale(0.58,1)" font-size="18" font-weight="bold" fill="#111">23</text>
<rect x="439.5" y="2249.74" width="212.2" height="33.6" fill="#838487"/>
<text transform="translate(85.48,2275.04) scale(0.9877,1)" font-size="25.7" font-weight="bold" fill="#0a0a0a" stroke="#0a0a0a" stroke-width="0.5">Fortuna Foothills, </text>
<text transform="translate(305.03,2275.04) scale(0.9138,1)" font-size="25.7" font-weight="bold" fill="#fff" stroke="#fff" stroke-width="0.7">AZ </text>
<text transform="translate(658.9,2275.0) scale(1.012,1)" font-size="25.7" font-weight="bold" fill="#0a0a0a" stroke="#0a0a0a" stroke-width="0.5">1.2%</text>
<circle cx="28.0" cy="2270.1" r="10.50" fill="#fff" stroke="#ec8d6f" stroke-width="2.0"/><text transform="translate(22.02,2276.35) scale(0.58,1)" font-size="18" font-weight="bold" fill="#111">24</text>
<rect x="439.5" y="2286.72" width="212.2" height="33.6" fill="#838487"/>
<text transform="translate(85.52,2312.02) scale(0.9567,1)" font-size="25.7" font-weight="bold" fill="#0a0a0a" stroke="#0a0a0a" stroke-width="0.5">Hickam Housing, </text>
<text transform="translate(290.44,2312.02) scale(1.0225,1)" font-size="25.7" font-weight="bold" fill="#fff" stroke="#fff" stroke-width="0.7">HI </text>
<text transform="translate(658.9,2312.0) scale(1.012,1)" font-size="25.7" font-weight="bold" fill="#0a0a0a" stroke="#0a0a0a" stroke-width="0.5">1.2%</text>
<circle cx="28.0" cy="2307.1" r="10.50" fill="#fff" stroke="#ec8d6f" stroke-width="2.0"/><text transform="translate(22.17,2313.33) scale(0.58,1)" font-size="18" font-weight="bold" fill="#111">25</text>
<rect x="439.5" y="2323.70" width="212.2" height="33.6" fill="#838487"/>
<text transform="translate(86.50,2349.00) scale(0.9752,1)" font-size="25.7" font-weight="bold" fill="#0a0a0a" stroke="#0a0a0a" stroke-width="0.5">Seward, </text>
<text transform="translate(188.52,2349.00) scale(0.9646,1)" font-size="25.7" font-weight="bold" fill="#fff" stroke="#fff" stroke-width="0.7">NE </text>
<text transform="translate(658.9,2349.0) scale(1.012,1)" font-size="25.7" font-weight="bold" fill="#0a0a0a" stroke="#0a0a0a" stroke-width="0.5">1.2%</text>
<circle cx="28.0" cy="2344.1" r="10.50" fill="#fff" stroke="#ec8d6f" stroke-width="2.0"/><text transform="translate(22.23,2350.31) scale(0.58,1)" font-size="18" font-weight="bold" fill="#111">26</text>
<rect x="439.5" y="2360.68" width="212.2" height="33.6" fill="#838487"/>
<text transform="translate(86.49,2385.98) scale(0.9828,1)" font-size="25.7" font-weight="bold" fill="#0a0a0a" stroke="#0a0a0a" stroke-width="0.5">Zephyrhills West, </text>
<text transform="translate(301.04,2385.98) scale(0.9776,1)" font-size="25.7" font-weight="bold" fill="#fff" stroke="#fff" stroke-width="0.7">FL </text>
<text transform="translate(658.9,2386.0) scale(1.012,1)" font-size="25.7" font-weight="bold" fill="#0a0a0a" stroke="#0a0a0a" stroke-width="0.5">1.2%</text>
<circle cx="28.0" cy="2381.1" r="10.50" fill="#fff" stroke="#ec8d6f" stroke-width="2.0"/><text transform="translate(22.23,2387.29) scale(0.58,1)" font-size="18" font-weight="bold" fill="#111">27</text>
<rect x="439.5" y="2397.66" width="212.2" height="33.6" fill="#838487"/>
<text transform="translate(85.48,2422.96) scale(0.9856,1)" font-size="25.7" font-weight="bold" fill="#0a0a0a" stroke="#0a0a0a" stroke-width="0.5">North Sarasota, </text>
<text transform="translate(279.55,2422.96) scale(0.9776,1)" font-size="25.7" font-weight="bold" fill="#fff" stroke="#fff" stroke-width="0.7">FL </text>
<text transform="translate(658.9,2423.0) scale(1.012,1)" font-size="25.7" font-weight="bold" fill="#0a0a0a" stroke="#0a0a0a" stroke-width="0.5">1.2%</text>
<circle cx="28.0" cy="2418.1" r="10.50" fill="#fff" stroke="#ec8d6f" stroke-width="2.0"/><text transform="translate(22.17,2424.27) scale(0.58,1)" font-size="18" font-weight="bold" fill="#111">28</text>
<rect x="439.5" y="2434.64" width="194.5" height="33.6" fill="#838487"/>
<text transform="translate(86.49,2459.94) scale(0.9827,1)" font-size="25.7" font-weight="bold" fill="#0a0a0a" stroke="#0a0a0a" stroke-width="0.5">Sugarcreek, </text>
<text transform="translate(236.58,2459.94) scale(0.9579,1)" font-size="25.7" font-weight="bold" fill="#fff" stroke="#fff" stroke-width="0.7">PA </text>
<text transform="translate(641.2,2459.9) scale(1.012,1)" font-size="25.7" font-weight="bold" fill="#0a0a0a" stroke="#0a0a0a" stroke-width="0.5">1.1%</text>
<circle cx="28.0" cy="2455.0" r="10.50" fill="#fff" stroke="#ec8d6f" stroke-width="2.0"/><text transform="translate(22.23,2461.25) scale(0.58,1)" font-size="18" font-weight="bold" fill="#111">29</text>
<rect x="439.5" y="2471.62" width="194.5" height="33.6" fill="#838487"/>
<text transform="translate(85.48,2496.92) scale(0.9857,1)" font-size="25.7" font-weight="bold" fill="#0a0a0a" stroke="#0a0a0a" stroke-width="0.5">Holualoa, </text>
<text transform="translate(205.32,2496.92) scale(1.0039,1)" font-size="25.7" font-weight="bold" fill="#fff" stroke="#fff" stroke-width="0.7">HI </text>
<text transform="translate(641.2,2496.9) scale(1.012,1)" font-size="25.7" font-weight="bold" fill="#0a0a0a" stroke="#0a0a0a" stroke-width="0.5">1.1%</text>
<circle cx="28.0" cy="2492.0" r="10.50" fill="#fff" stroke="#ec8d6f" stroke-width="2.0"/><text transform="translate(22.28,2498.23) scale(0.58,1)" font-size="18" font-weight="bold" fill="#111">30</text>
<rect x="439.5" y="2508.60" width="194.5" height="33.6" fill="#838487"/>
<text transform="translate(86.04,2533.90) scale(0.9291,1)" font-size="25.7" font-weight="bold" fill="#0a0a0a" stroke="#0a0a0a" stroke-width="0.5">Cocoa West, </text>
<text transform="translate(234.47,2533.90) scale(0.9632,1)" font-size="25.7" font-weight="bold" fill="#fff" stroke="#fff" stroke-width="0.7">FL </text>
<text transform="translate(641.2,2533.9) scale(1.012,1)" font-size="25.7" font-weight="bold" fill="#0a0a0a" stroke="#0a0a0a" stroke-width="0.5">1.1%</text>
<circle cx="28.0" cy="2529.0" r="10.50" fill="#fff" stroke="#ec8d6f" stroke-width="2.0"/><text transform="translate(22.23,2535.21) scale(0.58,1)" font-size="18" font-weight="bold" fill="#111">31</text>
<rect x="439.5" y="2545.58" width="194.5" height="33.6" fill="#838487"/>
<text transform="translate(86.50,2570.88) scale(0.9813,1)" font-size="25.7" font-weight="bold" fill="#0a0a0a" stroke="#0a0a0a" stroke-width="0.5">Safford, </text>
<text transform="translate(187.01,2570.88) scale(0.9138,1)" font-size="25.7" font-weight="bold" fill="#fff" stroke="#fff" stroke-width="0.7">AZ </text>
<text transform="translate(641.2,2570.9) scale(1.012,1)" font-size="25.7" font-weight="bold" fill="#0a0a0a" stroke="#0a0a0a" stroke-width="0.5">1.1%</text>
<circle cx="28.0" cy="2566.0" r="10.50" fill="#fff" stroke="#ec8d6f" stroke-width="2.0"/><text transform="translate(22.28,2572.19) scale(0.58,1)" font-size="18" font-weight="bold" fill="#111">32</text>
<rect x="439.5" y="2582.56" width="194.5" height="33.6" fill="#838487"/>
<text transform="translate(85.41,2607.86) scale(1.0302,1)" font-size="25.7" font-weight="bold" fill="#0a0a0a" stroke="#0a0a0a" stroke-width="0.5">Newberry-Baker, </text>
<text transform="translate(299.54,2607.86) scale(0.8781,1)" font-size="25.7" font-weight="bold" fill="#fff" stroke="#fff" stroke-width="0.7">CA </text>
<text transform="translate(641.2,2607.9) scale(1.012,1)" font-size="25.7" font-weight="bold" fill="#0a0a0a" stroke="#0a0a0a" stroke-width="0.5">1.1%</text>
<circle cx="28.0" cy="2603.0" r="10.50" fill="#fff" stroke="#ec8d6f" stroke-width="2.0"/><text transform="translate(22.28,2609.17) scale(0.58,1)" font-size="18" font-weight="bold" fill="#111">33</text>
<rect x="439.5" y="2619.54" width="194.5" height="33.6" fill="#838487"/>
<text transform="translate(85.44,2644.84) scale(1.0143,1)" font-size="25.7" font-weight="bold" fill="#0a0a0a" stroke="#0a0a0a" stroke-width="0.5">Brent, </text>
<text transform="translate(166.19,2644.84) scale(0.9632,1)" font-size="25.7" font-weight="bold" fill="#fff" stroke="#fff" stroke-width="0.7">FL </text>
<text transform="translate(641.2,2644.8) scale(1.012,1)" font-size="25.7" font-weight="bold" fill="#0a0a0a" stroke="#0a0a0a" stroke-width="0.5">1.1%</text>
<circle cx="28.0" cy="2639.9" r="10.50" fill="#fff" stroke="#ec8d6f" stroke-width="2.0"/><text transform="translate(22.07,2646.15) scale(0.58,1)" font-size="18" font-weight="bold" fill="#111">34</text>
<rect x="439.5" y="2656.52" width="194.5" height="33.6" fill="#838487"/>
<text transform="translate(85.49,2681.82) scale(0.9771,1)" font-size="25.7" font-weight="bold" fill="#0a0a0a" stroke="#0a0a0a" stroke-width="0.5">Linda, </text>
<text transform="translate(165.09,2681.82) scale(0.8662,1)" font-size="25.7" font-weight="bold" fill="#fff" stroke="#fff" stroke-width="0.7">CA </text>
<text transform="translate(641.2,2681.8) scale(1.012,1)" font-size="25.7" font-weight="bold" fill="#0a0a0a" stroke="#0a0a0a" stroke-width="0.5">1.1%</text>
<circle cx="28.0" cy="2676.9" r="10.50" fill="#fff" stroke="#ec8d6f" stroke-width="2.0"/><text transform="translate(22.23,2683.13) scale(0.58,1)" font-size="18" font-weight="bold" fill="#111">35</text>
<rect x="439.5" y="2693.50" width="194.5" height="33.6" fill="#838487"/>
<text transform="translate(86.50,2718.80) scale(0.9674,1)" font-size="25.7" font-weight="bold" fill="#0a0a0a" stroke="#0a0a0a" stroke-width="0.5">South Patrick Shores, </text>
<text transform="translate(350.38,2718.80) scale(0.9632,1)" font-size="25.7" font-weight="bold" fill="#fff" stroke="#fff" stroke-width="0.7">FL </text>
<text transform="translate(641.2,2718.8) scale(1.012,1)" font-size="25.7" font-weight="bold" fill="#0a0a0a" stroke="#0a0a0a" stroke-width="0.5">1.1%</text>
<circle cx="28.0" cy="2713.9" r="10.50" fill="#fff" stroke="#ec8d6f" stroke-width="2.0"/><text transform="translate(22.28,2720.11) scale(0.58,1)" font-size="18" font-weight="bold" fill="#111">36</text>
<rect x="439.5" y="2730.48" width="194.5" height="33.6" fill="#838487"/>
<text transform="translate(85.49,2755.78) scale(0.9794,1)" font-size="25.7" font-weight="bold" fill="#0a0a0a" stroke="#0a0a0a" stroke-width="0.5">Kalaoa, </text>
<text transform="translate(180.85,2755.78) scale(1.0225,1)" font-size="25.7" font-weight="bold" fill="#fff" stroke="#fff" stroke-width="0.7">HI </text>
<text transform="translate(641.2,2755.8) scale(1.012,1)" font-size="25.7" font-weight="bold" fill="#0a0a0a" stroke="#0a0a0a" stroke-width="0.5">1.1%</text>
<circle cx="28.0" cy="2750.9" r="10.50" fill="#fff" stroke="#ec8d6f" stroke-width="2.0"/><text transform="translate(22.28,2757.09) scale(0.58,1)" font-size="18" font-weight="bold" fill="#111">37</text>
<rect x="439.5" y="2767.46" width="194.5" height="33.6" fill="#838487"/>
<text transform="translate(85.46,2792.76) scale(0.9973,1)" font-size="25.7" font-weight="bold" fill="#0a0a0a" stroke="#0a0a0a" stroke-width="0.5">Kihei, </text>
<text transform="translate(160.62,2792.76) scale(1.0225,1)" font-size="25.7" font-weight="bold" fill="#fff" stroke="#fff" stroke-width="0.7">HI </text>
<text transform="translate(641.2,2792.8) scale(1.012,1)" font-size="25.7" font-weight="bold" fill="#0a0a0a" stroke="#0a0a0a" stroke-width="0.5">1.1%</text>
<circle cx="28.0" cy="2787.9" r="10.50" fill="#fff" stroke="#ec8d6f" stroke-width="2.0"/><text transform="translate(22.23,2794.07) scale(0.58,1)" font-size="18" font-weight="bold" fill="#111">38</text>
<rect x="439.5" y="2804.44" width="194.5" height="33.6" fill="#838487"/>
<text transform="translate(85.45,2829.74) scale(1.0021,1)" font-size="25.7" font-weight="bold" fill="#0a0a0a" stroke="#0a0a0a" stroke-width="0.5">Edgewater, </text>
<text transform="translate(226.90,2829.74) scale(0.9488,1)" font-size="25.7" font-weight="bold" fill="#fff" stroke="#fff" stroke-width="0.7">FL </text>
<text transform="translate(641.2,2829.7) scale(1.012,1)" font-size="25.7" font-weight="bold" fill="#0a0a0a" stroke="#0a0a0a" stroke-width="0.5">1.1%</text>
<circle cx="28.0" cy="2824.8" r="10.50" fill="#fff" stroke="#ec8d6f" stroke-width="2.0"/><text transform="translate(22.28,2831.05) scale(0.58,1)" font-size="18" font-weight="bold" fill="#111">39</text>
<rect x="439.5" y="2841.42" width="176.8" height="33.6" fill="#838487"/>
<text transform="translate(86.75,2866.72) scale(0.9596,1)" font-size="25.7" font-weight="bold" fill="#0a0a0a" stroke="#0a0a0a" stroke-width="0.5">Yuma, </text>
<text transform="translate(164.67,2866.72) scale(0.9265,1)" font-size="25.7" font-weight="bold" fill="#fff" stroke="#fff" stroke-width="0.7">AZ </text>
<text transform="translate(623.5,2866.7) scale(1.012,1)" font-size="25.7" font-weight="bold" fill="#0a0a0a" stroke="#0a0a0a" stroke-width="0.5">1.0%</text>
<circle cx="28.0" cy="2861.8" r="10.50" fill="#fff" stroke="#f4b49c" stroke-width="2.0"/><text transform="translate(22.33,2868.03) scale(0.58,1)" font-size="18" font-weight="bold" fill="#111">40</text>
<rect x="439.5" y="2878.40" width="176.8" height="33.6" fill="#838487"/>
<text transform="translate(85.46,2903.70) scale(0.9978,1)" font-size="25.7" font-weight="bold" fill="#0a0a0a" stroke="#0a0a0a" stroke-width="0.5">Minneola, </text>
<text transform="translate(209.18,2903.70) scale(0.9632,1)" font-size="25.7" font-weight="bold" fill="#fff" stroke="#fff" stroke-width="0.7">FL </text>
<text transform="translate(623.5,2903.7) scale(1.012,1)" font-size="25.7" font-weight="bold" fill="#0a0a0a" stroke="#0a0a0a" stroke-width="0.5">1.0%</text>
<circle cx="28.0" cy="2898.8" r="10.50" fill="#fff" stroke="#f4b49c" stroke-width="2.0"/><text transform="translate(22.28,2905.01) scale(0.58,1)" font-size="18" font-weight="bold" fill="#111">41</text>
<rect x="439.5" y="2915.38" width="176.8" height="33.6" fill="#838487"/>
<text transform="translate(85.40,2940.68) scale(1.0345,1)" font-size="25.7" font-weight="bold" fill="#0a0a0a" stroke="#0a0a0a" stroke-width="0.5">Kirtland, </text>
<text transform="translate(198.63,2940.68) scale(0.9734,1)" font-size="25.7" font-weight="bold" fill="#fff" stroke="#fff" stroke-width="0.7">NM </text>
<text transform="translate(623.5,2940.7) scale(1.012,1)" font-size="25.7" font-weight="bold" fill="#0a0a0a" stroke="#0a0a0a" stroke-width="0.5">1.0%</text>
<circle cx="28.0" cy="2935.8" r="10.50" fill="#fff" stroke="#f4b49c" stroke-width="2.0"/><text transform="translate(22.33,2941.99) scale(0.58,1)" font-size="18" font-weight="bold" fill="#111">42</text>
<rect x="439.5" y="2952.36" width="176.8" height="33.6" fill="#838487"/>
<text transform="translate(85.45,2977.66) scale(1.0071,1)" font-size="25.7" font-weight="bold" fill="#0a0a0a" stroke="#0a0a0a" stroke-width="0.5">North Port, </text>
<text transform="translate(226.04,2977.66) scale(0.9632,1)" font-size="25.7" font-weight="bold" fill="#fff" stroke="#fff" stroke-width="0.7">FL </text>
<text transform="translate(623.5,2977.7) scale(1.012,1)" font-size="25.7" font-weight="bold" fill="#0a0a0a" stroke="#0a0a0a" stroke-width="0.5">1.0%</text>
<circle cx="28.0" cy="2972.8" r="10.50" fill="#fff" stroke="#f4b49c" stroke-width="2.0"/><text transform="translate(22.33,2978.97) scale(0.58,1)" font-size="18" font-weight="bold" fill="#111">43</text>
<rect x="439.5" y="2989.34" width="176.8" height="33.6" fill="#838487"/>
<text transform="translate(85.48,3014.64) scale(0.9856,1)" font-size="25.7" font-weight="bold" fill="#0a0a0a" stroke="#0a0a0a" stroke-width="0.5">Mahomet, </text>
<text transform="translate(210.46,3014.64) scale(0.9542,1)" font-size="25.7" font-weight="bold" fill="#fff" stroke="#fff" stroke-width="0.7">IL </text>
<text transform="translate(623.5,3014.6) scale(1.012,1)" font-size="25.7" font-weight="bold" fill="#0a0a0a" stroke="#0a0a0a" stroke-width="0.5">1.0%</text>
<circle cx="28.0" cy="3009.7" r="10.50" fill="#fff" stroke="#f4b49c" stroke-width="2.0"/><text transform="translate(22.12,3015.95) scale(0.58,1)" font-size="18" font-weight="bold" fill="#111">44</text>
<rect x="439.5" y="3026.32" width="176.8" height="33.6" fill="#838487"/>
<text transform="translate(86.50,3051.62) scale(0.9814,1)" font-size="25.7" font-weight="bold" fill="#0a0a0a" stroke="#0a0a0a" stroke-width="0.5">Surfside, </text>
<text transform="translate(200.75,3051.62) scale(0.9632,1)" font-size="25.7" font-weight="bold" fill="#fff" stroke="#fff" stroke-width="0.7">FL </text>
<text transform="translate(623.5,3051.6) scale(1.012,1)" font-size="25.7" font-weight="bold" fill="#0a0a0a" stroke="#0a0a0a" stroke-width="0.5">1.0%</text>
<circle cx="28.0" cy="3046.7" r="10.50" fill="#fff" stroke="#f4b49c" stroke-width="2.0"/><text transform="translate(22.28,3052.93) scale(0.58,1)" font-size="18" font-weight="bold" fill="#111">45</text>
<rect x="439.5" y="3063.30" width="176.8" height="33.6" fill="#838487"/>
<text transform="translate(85.49,3088.60) scale(0.9816,1)" font-size="25.7" font-weight="bold" fill="#0a0a0a" stroke="#0a0a0a" stroke-width="0.5">Lake Mathews, </text>
<text transform="translate(269.22,3088.60) scale(0.8543,1)" font-size="25.7" font-weight="bold" fill="#fff" stroke="#fff" stroke-width="0.7">CA </text>
<text transform="translate(623.5,3088.6) scale(1.012,1)" font-size="25.7" font-weight="bold" fill="#0a0a0a" stroke="#0a0a0a" stroke-width="0.5">1.0%</text>
<circle cx="28.0" cy="3083.7" r="10.50" fill="#fff" stroke="#f4b49c" stroke-width="2.0"/><text transform="translate(22.33,3089.91) scale(0.58,1)" font-size="18" font-weight="bold" fill="#111">46</text>
<rect x="439.5" y="3100.28" width="176.8" height="33.6" fill="#838487"/>
<text transform="translate(85.47,3125.58) scale(0.9906,1)" font-size="25.7" font-weight="bold" fill="#0a0a0a" stroke="#0a0a0a" stroke-width="0.5">Indiantown, </text>
<text transform="translate(232.36,3125.58) scale(0.9632,1)" font-size="25.7" font-weight="bold" fill="#fff" stroke="#fff" stroke-width="0.7">FL </text>
<text transform="translate(623.5,3125.6) scale(1.012,1)" font-size="25.7" font-weight="bold" fill="#0a0a0a" stroke="#0a0a0a" stroke-width="0.5">1.0%</text>
<circle cx="28.0" cy="3120.7" r="10.50" fill="#fff" stroke="#f4b49c" stroke-width="2.0"/><text transform="translate(22.33,3126.89) scale(0.58,1)" font-size="18" font-weight="bold" fill="#111">47</text>
<rect x="439.5" y="3137.26" width="176.8" height="33.6" fill="#838487"/>
<text transform="translate(85.52,3162.56) scale(0.9595,1)" font-size="25.7" font-weight="bold" fill="#0a0a0a" stroke="#0a0a0a" stroke-width="0.5">Hutchinson Island South, </text>
<text transform="translate(388.31,3162.56) scale(0.9632,1)" font-size="25.7" font-weight="bold" fill="#fff" stroke="#fff" stroke-width="0.7">FL </text>
<text transform="translate(623.5,3162.6) scale(1.012,1)" font-size="25.7" font-weight="bold" fill="#0a0a0a" stroke="#0a0a0a" stroke-width="0.5">1.0%</text>
<circle cx="28.0" cy="3157.7" r="10.50" fill="#fff" stroke="#f4b49c" stroke-width="2.0"/><text transform="translate(22.28,3163.87) scale(0.58,1)" font-size="18" font-weight="bold" fill="#111">48</text>
<rect x="439.5" y="3174.24" width="176.8" height="33.6" fill="#838487"/>
<text transform="translate(85.50,3199.54) scale(0.9716,1)" font-size="25.7" font-weight="bold" fill="#0a0a0a" stroke="#0a0a0a" stroke-width="0.5">Kua, </text>
<text transform="translate(145.89,3199.54) scale(1.0039,1)" font-size="25.7" font-weight="bold" fill="#fff" stroke="#fff" stroke-width="0.7">HI </text>
<text transform="translate(623.5,3199.5) scale(1.012,1)" font-size="25.7" font-weight="bold" fill="#0a0a0a" stroke="#0a0a0a" stroke-width="0.5">1.0%</text>
<circle cx="28.0" cy="3194.6" r="10.50" fill="#fff" stroke="#f4b49c" stroke-width="2.0"/><text transform="translate(22.33,3200.85) scale(0.58,1)" font-size="18" font-weight="bold" fill="#111">49</text>
<rect x="439.5" y="3211.22" width="176.8" height="33.6" fill="#838487"/>
<text transform="translate(85.47,3236.52) scale(0.9919,1)" font-size="25.7" font-weight="bold" fill="#0a0a0a" stroke="#0a0a0a" stroke-width="0.5">North Peninsula, </text>
<text transform="translate(293.48,3236.52) scale(0.9632,1)" font-size="25.7" font-weight="bold" fill="#fff" stroke="#fff" stroke-width="0.7">FL </text>
<text transform="translate(623.5,3236.5) scale(1.012,1)" font-size="25.7" font-weight="bold" fill="#0a0a0a" stroke="#0a0a0a" stroke-width="0.5">1.0%</text>
<circle cx="28.0" cy="3231.6" r="10.50" fill="#fff" stroke="#f4b49c" stroke-width="2.0"/><text transform="translate(22.23,3237.83) scale(0.58,1)" font-size="18" font-weight="bold" fill="#111">50</text>
<g transform="translate(987.20,1425.30) scale(0.14751) translate(-292,-520)"><circle cx="292" cy="520" r="43" fill="#00a5a5" stroke="#6d6e71" stroke-width="15"/><circle cx="540" cy="520" r="43" fill="#00a5a5" stroke="#6d6e71" stroke-width="15"/><path d="M198 497 L205 470 L250 380 L405 375 L405 497 Z" fill="#009e9e"/><path d="M203 450 L405 450 L405 472 L198 472 Z" fill="#00b2b0"/><path d="M198 475 L405 475 L405 497 L340 497 L330 510 L198 497 Z" fill="#00695c"/><rect x="205" y="405" width="16" height="30" fill="#e8836b"/><path d="M400 470 L470 470 L470 512 L345 512 L335 497 L400 497Z" fill="#00695c"/><rect x="243" y="327" width="140" height="46" rx="20" fill="#00a9a8"/><path d="M385 180 L440 170 L447 210 L512 250 L500 277 L440 247 L440 300 L472 330 L458 497 L410 497 L405 362 L360 332 L353 282 L368 215 Z" fill="#d5d7d9"/><path d="M358 325 L440 300 L472 330 L458 497 L410 497 L405 362 Z" fill="#2a7a9b"/><circle cx="415" cy="155" r="30" fill="#00a0a0"/><rect x="460" y="332" width="124" height="180" rx="22" fill="#009e9e"/><path d="M508 345 L546 345 L540 425 Q527 445 514 425 Z" fill="#00b5b5"/><circle cx="526" cy="358" r="14" fill="#e8836b"/><path d="M490 512 Q492 452 545 450 Q600 452 603 512 Z" fill="#00695c"/><rect x="425" y="282" width="160" height="18" rx="6" fill="#8a8c8e"/><ellipse cx="520" cy="290" rx="52" ry="33" fill="#00a0a0"/><circle cx="527" cy="290" r="23" fill="#00a9a8"/><path d="M478 268 Q470 245 445 248 M548 262 Q565 240 560 268" fill="none" stroke="#00a0a0" stroke-width="7"/></g>
<g transform="translate(530.10,1786.80) scale(0.14751) translate(-272,-385)"><circle cx="272" cy="385" r="62" fill="none" stroke="#000" stroke-width="40"/><circle cx="640" cy="385" r="62" fill="none" stroke="#000" stroke-width="40"/><path d="M272 385 L352 305 M640 385 L585 300" stroke="#ef8f3f" stroke-width="38" stroke-linecap="round" fill="none"/><path d="M240 212 L300 222 L365 240 L440 232 L490 238 L540 277 L560 270 L555 235 L592 195 Q650 205 688 282 L575 300 L548 392 Q535 425 500 425 L425 422 L340 330 L330 290 L258 238 Z" fill="#ef8f3f"/><path d="M362 232 Q370 170 465 150 Q520 185 560 250 L612 255 L606 277 L540 277 L490 240 Q460 225 435 240 L482 290 L432 322 L418 397 L365 345 L420 292 L385 280 Z" fill="#e9eaeb"/><path d="M505 95 Q550 95 555 145 L520 150 L548 170 Q540 190 520 185 L470 150 Q455 120 470 105 Q485 95 505 95Z" fill="#9b1c20"/><circle cx="598" cy="266" r="10" fill="#ef8f3f"/></g>
<g transform="translate(483.10,2006.70) scale(0.14751) translate(-292,-520)"><circle cx="292" cy="520" r="43" fill="none" stroke="#000" stroke-width="15"/><circle cx="540" cy="520" r="43" fill="none" stroke="#000" stroke-width="15"/><path d="M198 497 L205 470 L250 380 L405 375 L405 497 Z" fill="#6ccbee"/><path d="M203 450 L405 450 L405 472 L198 472 Z" fill="#3f5aa9"/><path d="M198 475 L405 475 L405 497 L340 497 L330 510 L198 497 Z" fill="#000"/><rect x="205" y="405" width="16" height="30" fill="#3f5aa9"/><path d="M400 470 L470 470 L470 512 L345 512 L335 497 L400 497Z" fill="#000"/><rect x="243" y="327" width="140" height="46" rx="20" fill="#3f5aa9"/><path d="M385 180 L440 170 L447 210 L512 250 L500 277 L440 247 L440 300 L472 330 L458 497 L410 497 L405 362 L360 332 L353 282 L368 215 Z" fill="#f2a983"/><circle cx="415" cy="155" r="30" fill="#6ccbee"/><rect x="460" y="332" width="124" height="180" rx="22" fill="#6ccbee"/><path d="M508 345 L546 345 L540 425 Q527 445 514 425 Z" fill="#3f5aa9"/><circle cx="526" cy="358" r="14" fill="#e0734f"/><path d="M490 512 Q492 452 545 450 Q600 452 603 512 Z" fill="#3f5aa9"/><rect x="425" y="282" width="160" height="18" rx="6" fill="#c7c8ca"/><ellipse cx="520" cy="290" rx="52" ry="33" fill="#3f5aa9"/><circle cx="527" cy="290" r="23" fill="#8a8c8e"/><path d="M478 268 Q470 245 445 248 M548 262 Q565 240 560 268" fill="none" stroke="#e0734f" stroke-width="7"/></g>
<g transform="translate(494.99,2414.29) scale(0.14751) translate(-305,-368)"><circle cx="305" cy="368" r="68" fill="none" stroke="#000" stroke-width="24"/><circle cx="640" cy="368" r="68" fill="none" stroke="#000" stroke-width="24"/><circle cx="305" cy="368" r="22" fill="#0d4f9e"/><circle cx="640" cy="368" r="24" fill="#0d4f9e"/><path d="M215 340 Q225 270 305 268 Q360 270 385 320" fill="none" stroke="#0d4f9e" stroke-width="12"/><path d="M560 320 Q600 258 700 285" fill="none" stroke="#0d4f9e" stroke-width="14"/><path d="M205 270 L330 285 L320 330 L285 330 L280 295 L225 290 L210 360 L200 355 Z" fill="#0d4f9e"/><path d="M640 368 L585 195" stroke="#6d6e71" stroke-width="10" fill="none"/><rect x="548" y="175" width="48" height="28" fill="#0d4f9e"/><rect x="622" y="180" width="5" height="45" fill="#bcbec0"/><path d="M420 290 L520 290 L530 400 L440 410 Z" fill="#8a8c8e"/><circle cx="478" cy="380" r="34" fill="#0d4f9e"/><circle cx="478" cy="382" r="14" fill="#d1d3d4"/><path d="M305 372 L440 395" stroke="#0d4f9e" stroke-width="12"/><path d="M330 372 L400 372" stroke="#8a8c8e" stroke-width="10"/><path d="M455 250 Q500 215 560 232 L575 300 L540 330 L520 400 L500 395 L505 300 L460 290 Z" fill="#0d4f9e"/><rect x="285" y="222" width="45" height="38" fill="#b5651d"/><path d="M325 212 L460 143 L505 160 L485 205 L432 240 L340 255 Z" fill="#fdb913"/><path d="M480 165 L520 175 L560 195 L552 217 L500 205 L478 195Z" fill="#fff"/><ellipse cx="512" cy="130" rx="40" ry="28" fill="#000"/><path d="M335 245 Q345 225 375 228 L445 240 Q480 262 462 285 L385 345 Q360 355 340 335 Q335 320 372 292 L340 275 Z" fill="#4a90d9"/><rect x="462" y="258" width="35" height="30" rx="8" fill="#9a9b9e"/></g>
<g transform="translate(510.20,2710.80) scale(0.14751) translate(-292,-520)"><circle cx="292" cy="520" r="43" fill="none" stroke="#000" stroke-width="15"/><circle cx="540" cy="520" r="43" fill="none" stroke="#000" stroke-width="15"/><path d="M198 497 L205 470 L250 380 L405 375 L405 497 Z" fill="#ffffff"/><path d="M203 450 L405 450 L405 472 L198 472 Z" fill="#ec8d6f"/><path d="M198 475 L405 475 L405 497 L340 497 L330 510 L198 497 Z" fill="#ffffff"/><rect x="205" y="405" width="16" height="30" fill="#ec8d6f"/><path d="M400 470 L470 470 L470 512 L345 512 L335 497 L400 497Z" fill="#ffffff"/><rect x="243" y="327" width="140" height="46" rx="20" fill="#ec8d6f"/><path d="M385 180 L440 170 L447 210 L512 250 L500 277 L440 247 L440 300 L472 330 L458 497 L410 497 L405 362 L360 332 L353 282 L368 215 Z" fill="#a7a9ac"/><circle cx="415" cy="155" r="30" fill="#9a9b9e"/><rect x="460" y="332" width="124" height="180" rx="22" fill="#ffffff"/><path d="M508 345 L546 345 L540 425 Q527 445 514 425 Z" fill="#ec8d6f"/><circle cx="526" cy="358" r="14" fill="#d9775c"/><path d="M490 512 Q492 452 545 450 Q600 452 603 512 Z" fill="#ec8d6f"/><rect x="425" y="282" width="160" height="18" rx="6" fill="#c7c8ca"/><ellipse cx="520" cy="290" rx="52" ry="33" fill="#ec8d6f"/><circle cx="527" cy="290" r="23" fill="#8a8c8e"/><path d="M478 268 Q470 245 445 248 M548 262 Q565 240 560 268" fill="none" stroke="#e0734f" stroke-width="7"/></g>
<g transform="translate(461.30,3187.20) scale(0.14751) translate(-272,-385)"><circle cx="272" cy="385" r="62" fill="none" stroke="#000" stroke-width="40"/><circle cx="640" cy="385" r="62" fill="none" stroke="#000" stroke-width="40"/><path d="M272 385 L352 305 M640 385 L585 300" stroke="#9b1c20" stroke-width="38" stroke-linecap="round" fill="none"/><path d="M240 212 L300 222 L365 240 L440 232 L490 238 L540 277 L560 270 L555 235 L592 195 Q650 205 688 282 L575 300 L548 392 Q535 425 500 425 L425 422 L340 330 L330 290 L258 238 Z" fill="#9b1c20"/><path d="M362 232 Q370 170 465 150 Q520 185 560 250 L612 255 L606 277 L540 277 L490 240 Q460 225 435 240 L482 290 L432 322 L418 397 L365 345 L420 292 L385 280 Z" fill="#0d4f9e"/><path d="M505 95 Q550 95 555 145 L520 150 L548 170 Q540 190 520 185 L470 150 Q455 120 470 105 Q485 95 505 95Z" fill="#ed1c24"/><circle cx="598" cy="266" r="10" fill="#9b1c20"/></g>
<rect x="0" y="0" width="1" height="3261" fill="#d8d9db"/><rect x="1199.6" y="0" width="1.4" height="3261" fill="#d8d9db"/><rect x="0" y="0" width="1201" height="1" fill="#d8d9db"/>
</svg></body></html>
